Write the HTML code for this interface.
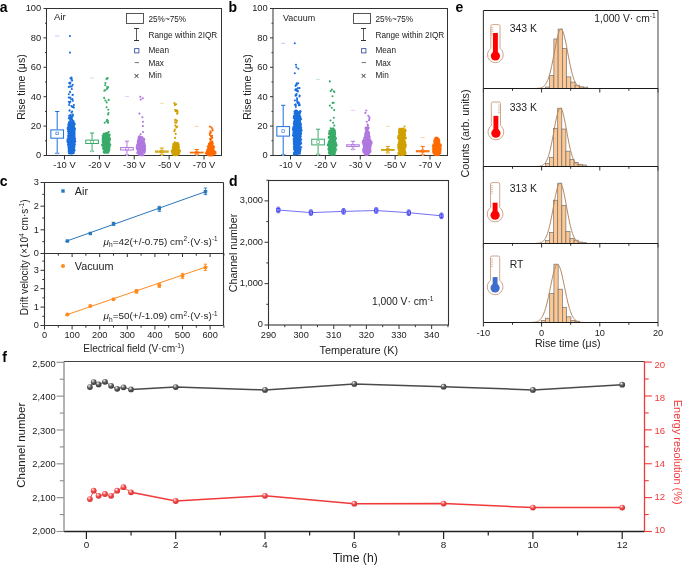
<!DOCTYPE html>
<html><head><meta charset="utf-8"><style>
html,body{margin:0;padding:0;background:#fff;}
svg{display:block;font-family:"Liberation Sans", sans-serif;filter:blur(0.3px);}
</style></head><body>
<svg width="685" height="566" viewBox="0 0 685 566">
<defs><radialGradient id="gk" cx="0.4" cy="0.35" r="0.65" fx="0.36" fy="0.3"><stop offset="0" stop-color="#ffffff"/><stop offset="0.22" stop-color="#b0b0b0"/><stop offset="0.5" stop-color="#5c5c5c"/><stop offset="1" stop-color="#383838"/></radialGradient><radialGradient id="gr" cx="0.4" cy="0.35" r="0.65" fx="0.36" fy="0.3"><stop offset="0" stop-color="#ffffff"/><stop offset="0.22" stop-color="#ffa0a0"/><stop offset="0.5" stop-color="#f04a4a"/><stop offset="1" stop-color="#d83030"/></radialGradient></defs>
<rect x="0" y="0" width="685" height="566" fill="#fff"/>
<text x="-0.2" y="11.8" font-size="14" font-weight="bold" fill="#000">a</text>
<text x="228.4" y="11.8" font-size="14" font-weight="bold" fill="#000">b</text>
<text x="455.6" y="11.8" font-size="14" font-weight="bold" fill="#000">e</text>
<text x="-0.2" y="185.7" font-size="14" font-weight="bold" fill="#000">c</text>
<text x="229.0" y="185.6" font-size="14" font-weight="bold" fill="#000">d</text>
<text x="2.3" y="362.4" font-size="14" font-weight="bold" fill="#000">f</text>
<line x1="43.50" y1="155.50" x2="46.50" y2="155.50" stroke="#333" stroke-width="1" />
<text x="41.20" y="158.33" font-size="9.3" text-anchor="end" fill="#222" font-weight="normal" >0</text>
<line x1="45.00" y1="140.80" x2="46.50" y2="140.80" stroke="#333" stroke-width="1" />
<line x1="43.50" y1="126.10" x2="46.50" y2="126.10" stroke="#333" stroke-width="1" />
<text x="41.20" y="128.93" font-size="9.3" text-anchor="end" fill="#222" font-weight="normal" >20</text>
<line x1="45.00" y1="111.40" x2="46.50" y2="111.40" stroke="#333" stroke-width="1" />
<line x1="43.50" y1="96.70" x2="46.50" y2="96.70" stroke="#333" stroke-width="1" />
<text x="41.20" y="99.53" font-size="9.3" text-anchor="end" fill="#222" font-weight="normal" >40</text>
<line x1="45.00" y1="82.00" x2="46.50" y2="82.00" stroke="#333" stroke-width="1" />
<line x1="43.50" y1="67.30" x2="46.50" y2="67.30" stroke="#333" stroke-width="1" />
<text x="41.20" y="70.13" font-size="9.3" text-anchor="end" fill="#222" font-weight="normal" >60</text>
<line x1="45.00" y1="52.60" x2="46.50" y2="52.60" stroke="#333" stroke-width="1" />
<line x1="43.50" y1="37.90" x2="46.50" y2="37.90" stroke="#333" stroke-width="1" />
<text x="41.20" y="40.73" font-size="9.3" text-anchor="end" fill="#222" font-weight="normal" >80</text>
<line x1="45.00" y1="23.20" x2="46.50" y2="23.20" stroke="#333" stroke-width="1" />
<line x1="43.50" y1="8.50" x2="46.50" y2="8.50" stroke="#333" stroke-width="1" />
<text x="41.20" y="11.33" font-size="9.3" text-anchor="end" fill="#222" font-weight="normal" >100</text>
<line x1="64.50" y1="155.50" x2="64.50" y2="159.50" stroke="#333" stroke-width="1" />
<text x="64.50" y="167.97" font-size="9.4" text-anchor="middle" fill="#222" font-weight="normal" >-10 V</text>
<line x1="99.38" y1="155.50" x2="99.38" y2="159.50" stroke="#333" stroke-width="1" />
<text x="99.38" y="167.97" font-size="9.4" text-anchor="middle" fill="#222" font-weight="normal" >-20 V</text>
<line x1="134.26" y1="155.50" x2="134.26" y2="159.50" stroke="#333" stroke-width="1" />
<text x="134.26" y="167.97" font-size="9.4" text-anchor="middle" fill="#222" font-weight="normal" >-30 V</text>
<line x1="169.14" y1="155.50" x2="169.14" y2="159.50" stroke="#333" stroke-width="1" />
<text x="169.14" y="167.97" font-size="9.4" text-anchor="middle" fill="#222" font-weight="normal" >-50 V</text>
<line x1="204.02" y1="155.50" x2="204.02" y2="159.50" stroke="#333" stroke-width="1" />
<text x="204.02" y="167.97" font-size="9.4" text-anchor="middle" fill="#222" font-weight="normal" >-70 V</text>
<rect x="46.50" y="8.50" width="175.00" height="147.00" stroke="#333" fill="none" stroke-width="1.0" />
<text x="0" y="3.79" font-size="10.6" text-anchor="middle" fill="#222" font-weight="normal" transform="translate(21.60,87.00) rotate(-90)" >Rise time (μs)</text>
<text x="54.00" y="20.24" font-size="9.6" text-anchor="start" fill="#222" font-weight="normal" >Air</text>
<rect x="126.50" y="13.50" width="17.00" height="10.00" stroke="#444" fill="none" stroke-width="0.9" />
<text x="148.50" y="21.94" font-size="8.2" text-anchor="start" fill="#222" font-weight="normal" >25%~75%</text>
<line x1="136.50" y1="28.50" x2="136.50" y2="40.50" stroke="#333" stroke-width="0.8" />
<line x1="134.00" y1="28.50" x2="139.00" y2="28.50" stroke="#333" stroke-width="1" />
<line x1="134.00" y1="40.50" x2="139.00" y2="40.50" stroke="#333" stroke-width="1" />
<text x="148.50" y="37.54" font-size="8.2" text-anchor="start" fill="#222" font-weight="normal" >Range within 2IQR</text>
<rect x="134.60" y="48.60" width="4.30" height="4.30" stroke="#3d55a0" fill="none" stroke-width="0.9" />
<text x="148.50" y="53.24" font-size="8.2" text-anchor="start" fill="#222" font-weight="normal" >Mean</text>
<line x1="134.60" y1="62.60" x2="139.00" y2="62.60" stroke="#666" stroke-width="0.9" />
<text x="148.50" y="65.54" font-size="8.2" text-anchor="start" fill="#222" font-weight="normal" >Max</text>
<text x="136.60" y="78.70" font-size="9.5" text-anchor="middle" fill="#222">×</text>
<text x="148.50" y="78.44" font-size="8.2" text-anchor="start" fill="#222" font-weight="normal" >Min</text>
<line x1="57.20" y1="111.50" x2="57.20" y2="129.40" stroke="#1b6fdd" stroke-width="1" />
<line x1="57.20" y1="138.70" x2="57.20" y2="153.60" stroke="#1b6fdd" stroke-width="1" />
<line x1="55.10" y1="111.50" x2="59.30" y2="111.50" stroke="#1b6fdd" stroke-width="1" />
<line x1="55.10" y1="153.30" x2="59.30" y2="153.30" stroke="#1b6fdd" stroke-width="1" />
<rect x="50.85" y="129.90" width="12.70" height="8.30" stroke="#1b6fdd" fill="none" stroke-width="1" />
<rect x="55.90" y="132.10" width="2.60" height="2.60" stroke="#1b6fdd" fill="none" stroke-width="0.6" />
<line x1="55.10" y1="36.00" x2="59.30" y2="36.00" stroke="#b9d0f2" stroke-width="1" />
<line x1="56.00" y1="152.60" x2="58.40" y2="154.80" stroke="#b9d0f2" stroke-width="0.7" />
<line x1="56.00" y1="154.80" x2="58.40" y2="152.60" stroke="#b9d0f2" stroke-width="0.7" />
<path d="M71.2,135.1h0M71.6,148.7h0M70.8,123.3h0M72.1,139.8h0M69.1,139.8h0M74.6,134.3h0M70.8,137.0h0M69.7,126.7h0M73.5,121.5h0M72.8,136.8h0M75.0,128.6h0M71.9,149.3h0M71.6,141.2h0M74.4,142.2h0M74.4,139.5h0M74.7,138.7h0M71.2,140.6h0M73.1,135.5h0M70.7,137.4h0M74.6,133.2h0M73.7,126.5h0M74.0,147.6h0M68.8,141.7h0M68.6,143.1h0M72.5,121.8h0M70.1,125.8h0M72.3,132.1h0M67.5,140.5h0M69.6,130.3h0M70.8,129.4h0M70.4,122.6h0M73.1,139.4h0M69.8,144.2h0M68.4,144.4h0M70.2,149.4h0M70.7,137.0h0M68.7,146.8h0M69.4,122.3h0M72.7,150.9h0M74.0,149.0h0M74.9,140.1h0M73.8,143.3h0M70.6,122.2h0M69.2,146.1h0M69.9,138.4h0M71.0,145.3h0M71.5,127.9h0M71.6,151.4h0M70.4,137.4h0M73.8,131.7h0M69.8,123.8h0M71.1,142.8h0M74.0,132.4h0M73.4,142.6h0M70.0,133.6h0M69.4,139.2h0M73.6,139.4h0M67.6,139.0h0M68.5,138.7h0M71.5,148.0h0M71.5,138.0h0M68.8,138.3h0M68.1,131.5h0M69.1,139.1h0M73.3,138.3h0M71.1,132.0h0M74.6,123.6h0M73.2,142.3h0M75.2,141.3h0M67.9,129.4h0M69.5,149.4h0M68.5,126.1h0M70.8,144.2h0M68.8,151.9h0M71.6,132.4h0M68.8,147.4h0M70.0,150.4h0M70.1,153.5h0M73.3,143.1h0M70.9,121.7h0M69.7,142.1h0M67.9,127.5h0M70.8,135.5h0M72.0,125.2h0M72.6,138.6h0M74.4,138.3h0M73.4,137.0h0M69.6,151.4h0M68.5,127.5h0M73.0,134.1h0M73.5,139.5h0M71.4,139.8h0M73.3,146.7h0M71.6,147.0h0M69.5,141.7h0M69.2,147.5h0M68.0,142.2h0M72.3,131.8h0M74.0,135.7h0M73.9,151.6h0M71.1,136.5h0M72.2,121.8h0M73.9,146.1h0M73.4,142.8h0M72.0,143.9h0M70.7,127.7h0M71.4,148.5h0M69.0,123.3h0M68.7,140.4h0M72.6,124.2h0M74.6,136.0h0M71.7,139.5h0M70.6,145.5h0M70.2,139.8h0M71.0,127.7h0M73.3,133.1h0M71.0,145.6h0M74.5,131.0h0M68.9,123.3h0M69.9,138.4h0M71.4,142.2h0M70.6,141.6h0M73.3,125.7h0M73.7,129.3h0M73.8,148.7h0M72.1,131.4h0M68.2,142.7h0M71.8,146.3h0M71.6,125.5h0M71.2,146.0h0M69.8,135.3h0M72.8,129.8h0M74.3,144.9h0M68.6,138.0h0M72.6,127.6h0M70.4,132.1h0M71.4,126.6h0M74.2,129.7h0M74.5,132.2h0M72.2,147.8h0M69.1,128.8h0M74.5,128.4h0M69.2,133.5h0M70.6,146.5h0M73.7,144.2h0M70.3,125.1h0M70.0,148.3h0M74.6,129.8h0M74.6,129.6h0M69.9,140.1h0M70.6,135.5h0M69.8,123.4h0M68.5,128.0h0M69.3,140.5h0M74.5,137.1h0M68.3,144.7h0M69.4,150.1h0M69.0,139.3h0M68.3,124.7h0M71.5,135.7h0M73.0,131.5h0M73.7,145.6h0M72.2,142.1h0M73.4,134.9h0M67.6,140.1h0M70.1,148.0h0M73.9,149.4h0M68.9,122.4h0M69.9,146.6h0M71.2,134.6h0M69.7,131.1h0M71.6,126.5h0M68.0,144.8h0M69.5,150.2h0M74.6,145.6h0M68.7,144.2h0M74.0,136.8h0M69.2,133.1h0M75.3,141.6h0M72.6,129.4h0M72.5,141.7h0M69.3,125.3h0M68.5,147.7h0M73.0,135.7h0M69.1,137.8h0M69.5,126.4h0M73.4,133.1h0M73.8,138.3h0M68.8,149.6h0M74.7,129.4h0M71.5,136.3h0M70.5,137.2h0M68.4,129.9h0M70.6,134.1h0M74.5,132.9h0M69.8,132.9h0M68.3,140.5h0M69.3,123.0h0M68.5,128.3h0M70.1,141.0h0M73.7,125.9h0M68.7,147.7h0M73.4,121.0h0M74.4,147.1h0M74.5,142.9h0M69.5,132.1h0M70.5,125.4h0M74.5,124.4h0M71.2,124.6h0M72.8,139.1h0M70.2,149.0h0M67.8,129.1h0M70.2,132.4h0M72.7,149.0h0M73.3,123.5h0M71.8,133.8h0M71.1,149.1h0M71.6,130.6h0M71.0,148.0h0M71.5,131.1h0M73.5,135.9h0M69.6,126.6h0M71.9,146.0h0M74.2,134.0h0M74.1,140.9h0M69.0,123.9h0M74.7,130.3h0M73.7,124.2h0M68.9,124.6h0M69.4,141.4h0M69.2,150.4h0M68.3,137.5h0M73.7,121.7h0M70.7,150.9h0M73.9,131.2h0M68.7,138.1h0M68.9,153.3h0M73.3,122.3h0M73.0,125.8h0M74.9,129.0h0M72.5,136.2h0M71.5,135.8h0M73.5,140.3h0M68.4,131.3h0M71.6,133.1h0M70.9,130.3h0M68.5,142.1h0M72.0,132.7h0M70.3,148.0h0M71.4,141.5h0M70.5,135.3h0M69.9,139.8h0M70.4,134.7h0M71.9,152.1h0M74.5,137.8h0M74.2,142.5h0M73.7,136.6h0M73.2,125.5h0M69.8,132.0h0M74.2,146.1h0M69.8,136.0h0M68.4,128.1h0M71.3,136.4h0M72.9,136.1h0M70.4,149.6h0M72.3,145.3h0M70.1,126.6h0M74.7,144.5h0M71.0,125.3h0M71.2,122.9h0M71.5,128.6h0M73.4,122.9h0M74.9,138.7h0M71.5,136.5h0M70.9,144.2h0M72.2,144.5h0M68.5,143.7h0M70.8,150.6h0M73.6,134.5h0M73.4,130.4h0M67.7,140.9h0M73.8,123.9h0M70.7,122.6h0M74.8,144.4h0M70.3,129.0h0M69.3,132.3h0M71.6,126.8h0M74.0,130.9h0M70.8,140.2h0M74.1,127.6h0M72.5,148.2h0M70.4,142.3h0M70.2,122.9h0M71.3,145.4h0M70.5,141.7h0M70.4,135.8h0M72.3,133.6h0M73.4,149.3h0M71.9,134.7h0M68.7,130.5h0M69.7,125.3h0M70.5,146.4h0M72.1,134.1h0M68.8,131.4h0M68.2,129.0h0M70.1,151.6h0M69.9,133.9h0M67.7,128.1h0M71.5,146.9h0M74.5,139.8h0M71.5,145.7h0M72.9,134.4h0M73.5,134.4h0M73.5,151.5h0M74.4,130.4h0M70.9,144.2h0M72.5,132.6h0M68.5,126.9h0M74.2,128.4h0M70.5,137.2h0M71.1,141.8h0M74.0,123.6h0M69.9,137.1h0M68.8,141.9h0M73.1,122.6h0M72.0,139.6h0M68.4,124.4h0M68.4,146.0h0M70.2,124.5h0M68.0,135.9h0M73.6,150.4h0M69.0,130.4h0M69.7,132.0h0M70.5,123.7h0M71.4,140.0h0M70.8,142.8h0M72.2,138.2h0M72.5,139.4h0M70.9,131.4h0M68.2,139.6h0M74.7,124.4h0M72.9,141.0h0M68.5,133.3h0M70.8,142.0h0M73.1,150.0h0M75.0,138.6h0M67.8,141.1h0M68.0,142.7h0M71.2,137.9h0M70.9,148.7h0M73.9,135.9h0M74.0,140.4h0M70.1,144.1h0M70.7,139.8h0M71.8,147.8h0M73.9,151.2h0M69.2,124.4h0M70.5,140.2h0M68.0,142.0h0M72.3,129.7h0M67.7,139.4h0M74.0,146.7h0M71.5,150.2h0M71.8,146.1h0M68.3,145.2h0M69.8,148.1h0M71.1,139.5h0M73.9,128.8h0M71.6,127.6h0M69.9,135.9h0M73.8,152.9h0M72.4,137.2h0M71.5,148.8h0M69.3,137.7h0M69.9,123.4h0M73.9,133.7h0M68.5,139.2h0M71.5,146.4h0M72.1,136.7h0M70.3,134.9h0M72.8,148.7h0M74.0,143.1h0M73.8,124.7h0M72.9,142.3h0M69.6,151.8h0M67.9,128.4h0M70.8,129.6h0M70.0,131.1h0M69.3,132.6h0M73.9,132.5h0M69.4,133.0h0M73.8,128.5h0M73.8,125.5h0M68.4,127.6h0M74.1,142.6h0M70.5,140.5h0M69.4,143.4h0M69.1,131.2h0M69.0,153.3h0M71.3,139.3h0M70.5,133.4h0M73.3,126.8h0M73.5,135.7h0M67.9,139.6h0M70.6,127.3h0M70.5,124.0h0M68.7,140.5h0M70.0,152.9h0M69.4,142.1h0M72.9,140.7h0M70.3,146.7h0M69.1,126.7h0M69.7,148.1h0M71.0,153.5h0M71.7,149.1h0M69.6,136.1h0M72.7,144.5h0M69.7,149.5h0M72.5,150.9h0M72.1,138.6h0M69.0,130.7h0M72.5,121.2h0M70.8,121.2h0M71.6,132.8h0M72.0,145.1h0M72.1,147.8h0M70.9,149.9h0M68.2,130.8h0M73.6,140.9h0M73.8,131.5h0M71.2,124.5h0M71.9,132.5h0M69.8,135.8h0M74.1,131.1h0M72.5,143.8h0M69.7,148.3h0M73.7,138.8h0M74.5,143.1h0M70.4,125.1h0M74.7,150.3h0M71.2,145.7h0M69.2,137.2h0M72.5,148.5h0M70.4,125.7h0M73.0,127.3h0M71.8,147.2h0M68.7,135.7h0M71.5,151.6h0M73.6,133.4h0M71.2,133.9h0M71.6,128.6h0M73.9,132.2h0M70.9,128.1h0M71.2,123.2h0M72.0,141.5h0M73.1,152.0h0M69.8,153.3h0M68.2,127.4h0M73.4,141.4h0M71.6,122.5h0M70.0,135.8h0M74.1,149.8h0M74.0,124.4h0M71.6,138.8h0M74.1,148.8h0M73.4,147.6h0M73.1,124.6h0M69.8,144.1h0M67.4,141.8h0M72.6,127.3h0M72.9,136.2h0M70.3,134.9h0M71.2,143.6h0M71.8,144.8h0M69.6,134.2h0M72.6,134.3h0M71.8,128.6h0M70.5,143.0h0M68.6,131.8h0M71.7,130.1h0M70.1,135.3h0M73.0,128.8h0M69.1,123.0h0M70.6,133.8h0M69.3,135.4h0M70.8,149.2h0M71.8,132.0h0M68.7,137.6h0M67.7,140.5h0M71.2,147.3h0M69.1,128.8h0M71.3,130.7h0M69.1,135.2h0M68.3,130.6h0M71.6,144.2h0M74.1,135.1h0M73.9,145.2h0M71.4,144.9h0M70.6,133.3h0M68.4,133.4h0M69.8,137.9h0M70.2,146.9h0M74.2,132.9h0M68.7,150.8h0M73.9,126.2h0M71.1,141.0h0M70.9,136.4h0M69.9,126.0h0M74.7,129.0h0M69.8,153.5h0M71.8,139.7h0M71.4,131.5h0M69.3,150.8h0M69.5,137.3h0M74.5,137.0h0M73.3,130.7h0M72.9,135.3h0M74.0,134.7h0M68.6,133.2h0M72.8,130.0h0M73.1,129.2h0M69.1,141.6h0M71.1,121.5h0M74.9,138.9h0M70.3,126.6h0M73.0,133.1h0M69.1,137.7h0M72.4,142.5h0M69.7,131.0h0M71.4,138.3h0M70.5,143.3h0M73.4,126.5h0M73.2,127.7h0M71.3,146.5h0M72.7,129.0h0M70.8,139.9h0M73.3,137.8h0M69.5,127.8h0M71.6,150.8h0M71.8,125.3h0M70.5,142.2h0M68.0,144.6h0M69.0,131.5h0M72.2,133.6h0M69.4,151.3h0M73.0,137.4h0M71.3,128.4h0M74.7,139.7h0M73.9,139.6h0M72.6,149.1h0M70.5,144.0h0M68.3,135.8h0M71.7,137.1h0M73.2,139.2h0M74.3,131.8h0M69.1,139.0h0M68.6,141.8h0M74.5,134.3h0M72.5,153.4h0M71.2,126.3h0M72.5,99.1h0M69.5,103.0h0M71.5,112.4h0M72.2,111.5h0M71.8,118.5h0M69.5,110.8h0M69.4,97.7h0M71.9,117.8h0M73.3,106.8h0M69.4,117.6h0M68.7,118.3h0M69.1,105.0h0M72.8,114.6h0M70.7,119.1h0M71.1,116.6h0M73.9,105.1h0M71.9,106.4h0M70.1,119.9h0M72.3,114.8h0M68.7,97.5h0M70.2,115.0h0M72.3,107.0h0M69.6,110.4h0M68.9,101.8h0M71.4,106.0h0M70.4,101.7h0M73.8,107.6h0M69.2,115.8h0M72.9,116.0h0M70.7,118.4h0M72.9,100.8h0M71.0,117.6h0M72.2,119.7h0M70.4,97.5h0M69.9,115.5h0M71.1,99.2h0M72.9,94.8h0M70.5,86.4h0M69.9,91.8h0M70.9,78.4h0M69.2,83.1h0M70.3,82.5h0M71.7,79.9h0M71.5,77.5h0M71.8,89.1h0M70.2,83.4h0M68.8,86.9h0M68.8,94.3h0M70.5,78.3h0M69.7,83.6h0M71.7,78.7h0M70.1,92.2h0M72.7,84.8h0M71.8,86.5h0M72.1,80.6h0M72.5,95.0h0M70.0,52.6h0M69.9,36.1h0" stroke="#1b6fdd" stroke-width="2.1" stroke-linecap="round" fill="none"/>
<line x1="92.08" y1="133.00" x2="92.08" y2="139.60" stroke="#38ab69" stroke-width="1" />
<line x1="92.08" y1="144.00" x2="92.08" y2="151.50" stroke="#38ab69" stroke-width="1" />
<line x1="89.98" y1="133.00" x2="94.18" y2="133.00" stroke="#38ab69" stroke-width="1" />
<line x1="89.98" y1="151.20" x2="94.18" y2="151.20" stroke="#38ab69" stroke-width="1" />
<rect x="85.73" y="140.10" width="12.70" height="3.40" stroke="#38ab69" fill="none" stroke-width="1" />
<rect x="90.78" y="140.50" width="2.60" height="2.60" stroke="#38ab69" fill="none" stroke-width="0.6" />
<line x1="89.98" y1="78.00" x2="94.18" y2="78.00" stroke="#c6e6d2" stroke-width="1" />
<line x1="90.88" y1="150.50" x2="93.28" y2="152.70" stroke="#c6e6d2" stroke-width="0.7" />
<line x1="90.88" y1="152.70" x2="93.28" y2="150.50" stroke="#c6e6d2" stroke-width="0.7" />
<path d="M108.1,148.5h0M104.3,150.4h0M107.5,143.8h0M106.6,143.7h0M108.5,140.2h0M104.1,140.3h0M105.8,151.0h0M103.7,151.7h0M108.8,147.8h0M106.2,146.2h0M103.8,141.3h0M107.2,138.3h0M104.7,142.7h0M108.7,136.5h0M103.3,136.7h0M108.6,148.2h0M107.1,142.0h0M105.1,135.9h0M103.2,146.2h0M106.9,134.4h0M102.7,142.1h0M103.6,142.4h0M109.2,139.4h0M109.0,145.5h0M106.6,134.9h0M109.4,144.7h0M107.5,136.8h0M106.6,135.8h0M105.6,135.1h0M102.9,137.6h0M103.3,141.6h0M104.2,139.8h0M105.9,143.0h0M108.7,151.7h0M106.7,141.7h0M107.7,151.4h0M109.6,144.8h0M103.8,144.9h0M108.9,146.8h0M109.2,150.5h0M104.5,141.9h0M103.7,142.9h0M108.2,138.1h0M109.2,135.8h0M108.3,146.2h0M105.4,145.0h0M106.7,151.9h0M103.7,149.1h0M104.4,137.5h0M105.5,144.1h0M107.8,143.8h0M103.3,146.8h0M109.1,143.1h0M103.5,134.4h0M109.3,143.0h0M104.2,135.8h0M108.4,149.8h0M107.7,152.5h0M109.4,134.7h0M105.9,145.0h0M107.6,140.8h0M104.5,136.3h0M108.4,137.6h0M103.5,140.8h0M108.6,151.4h0M106.8,147.8h0M103.3,142.5h0M109.2,138.1h0M104.7,138.9h0M102.7,140.0h0M104.6,148.4h0M103.0,142.8h0M104.5,135.7h0M107.6,149.0h0M109.6,146.9h0M107.2,136.1h0M109.0,139.7h0M108.3,142.7h0M107.6,149.7h0M105.4,143.6h0M104.5,148.5h0M103.7,141.7h0M106.5,137.5h0M103.8,139.4h0M107.3,133.2h0M105.0,150.1h0M106.6,151.9h0M106.5,135.1h0M107.1,149.8h0M103.7,141.7h0M104.6,150.5h0M107.5,142.9h0M104.2,140.4h0M107.5,135.7h0M109.4,149.8h0M105.6,152.0h0M109.9,138.6h0M107.2,145.2h0M109.0,151.1h0M106.4,147.4h0M107.6,134.5h0M107.0,133.0h0M103.7,139.7h0M106.3,144.9h0M106.6,152.7h0M105.9,146.6h0M107.4,136.2h0M109.0,147.1h0M108.5,139.6h0M108.7,138.7h0M103.3,139.0h0M107.5,149.5h0M107.2,145.9h0M109.5,135.4h0M102.8,137.6h0M103.4,145.2h0M109.5,140.7h0M105.1,145.7h0M107.8,136.1h0M106.8,136.8h0M105.5,143.6h0M105.7,134.8h0M106.6,142.5h0M109.5,137.5h0M106.4,137.8h0M108.7,144.7h0M104.8,137.3h0M107.7,146.6h0M107.1,144.4h0M107.8,137.9h0M108.2,151.8h0M102.6,145.2h0M109.2,149.7h0M106.9,137.5h0M104.5,146.9h0M105.9,147.7h0M103.3,141.5h0M103.9,145.3h0M108.5,142.7h0M107.6,137.8h0M108.2,151.8h0M103.8,146.1h0M103.5,144.0h0M105.1,145.0h0M106.1,141.6h0M107.6,137.9h0M104.8,146.0h0M107.8,146.9h0M106.8,137.6h0M104.7,146.8h0M108.1,148.1h0M102.7,138.7h0M106.8,148.3h0M104.2,150.8h0M103.1,142.7h0M106.0,138.9h0M106.4,144.2h0M106.9,143.5h0M105.3,138.0h0M109.2,147.6h0M108.5,139.5h0M103.9,137.0h0M102.8,137.9h0M109.9,138.5h0M105.6,149.9h0M102.8,144.7h0M103.5,145.8h0M107.5,137.5h0M103.9,141.6h0M105.3,137.9h0M107.4,146.4h0M105.2,142.3h0M107.4,135.9h0M109.3,149.9h0M108.3,141.8h0M107.3,144.1h0M107.0,147.6h0M104.9,137.8h0M107.1,143.4h0M107.2,141.9h0M106.7,150.8h0M106.1,145.0h0M107.8,150.8h0M104.2,142.5h0M107.7,140.7h0M109.6,134.6h0M103.1,136.8h0M104.5,142.9h0M110.1,139.8h0M103.3,146.3h0M107.9,134.2h0M106.7,140.3h0M103.3,143.0h0M107.3,145.2h0M102.8,140.3h0M108.5,142.4h0M104.9,150.8h0M109.0,143.2h0M108.9,142.8h0M103.4,136.1h0M105.5,149.3h0M103.6,135.2h0M108.2,140.1h0M103.4,141.0h0M102.8,139.8h0M103.7,147.9h0M108.6,143.6h0M104.0,144.2h0M104.8,139.9h0M105.9,134.2h0M106.5,140.7h0M105.6,138.0h0M110.0,144.7h0M105.1,146.1h0M106.1,151.8h0M108.5,151.3h0M104.5,143.1h0M104.0,143.9h0M108.9,139.5h0M105.2,134.2h0M108.8,137.7h0M108.4,143.7h0M105.3,146.0h0M104.7,144.7h0M103.5,138.2h0M108.6,149.3h0M105.7,144.2h0M105.0,134.9h0M104.5,133.7h0M104.3,138.2h0M108.7,143.8h0M103.7,137.4h0M106.6,134.7h0M107.0,149.5h0M106.3,139.9h0M106.2,144.2h0M105.3,145.5h0M104.1,136.7h0M108.4,141.4h0M108.9,143.5h0M106.7,140.0h0M104.5,147.9h0M108.9,148.9h0M104.1,146.9h0M103.7,135.2h0M107.3,144.7h0M108.6,142.0h0M106.8,139.4h0M103.6,148.6h0M109.6,134.7h0M103.8,147.5h0M105.2,149.3h0M109.4,148.0h0M108.0,151.1h0M107.9,149.1h0M103.4,148.5h0M108.4,151.2h0M105.5,143.9h0M102.8,140.4h0M108.2,146.9h0M109.2,141.3h0M103.2,148.7h0M105.9,141.0h0M109.6,145.0h0M105.1,150.6h0M104.8,142.0h0M108.1,143.9h0M105.8,147.5h0M109.5,143.0h0M109.0,138.8h0M108.4,151.6h0M107.6,146.3h0M104.1,138.1h0M107.4,142.7h0M106.7,137.0h0M106.1,151.8h0M106.7,140.1h0M104.5,145.4h0M103.7,138.5h0M108.1,152.8h0M105.2,134.8h0M103.5,142.6h0M110.3,144.9h0M106.3,142.6h0M107.4,141.1h0M105.1,149.0h0M103.2,145.5h0M105.0,150.1h0M108.5,147.1h0M104.7,137.1h0M108.8,149.6h0M104.5,144.2h0M108.9,140.5h0M104.1,149.3h0M105.7,145.0h0M103.8,149.3h0M103.1,144.3h0M106.3,140.7h0M105.3,142.6h0M106.4,140.9h0M103.9,140.0h0M104.9,136.9h0M105.0,150.5h0M109.0,141.9h0M102.5,144.5h0M105.5,144.7h0M108.6,142.7h0M106.7,148.0h0M104.2,138.6h0M109.5,142.8h0M103.5,144.0h0M103.7,137.3h0M103.6,133.9h0M105.8,146.4h0M109.3,144.7h0M104.7,137.8h0M104.8,136.8h0M107.6,133.5h0M103.2,145.9h0M103.8,152.4h0M107.3,137.0h0M103.4,143.6h0M106.4,144.0h0M103.3,139.2h0M106.9,137.1h0M108.9,135.9h0M105.9,133.6h0M104.5,142.0h0M107.0,141.5h0M107.9,144.5h0M103.2,143.4h0M104.2,135.7h0M105.6,152.6h0M106.2,138.0h0M105.0,134.0h0M107.2,151.0h0M104.5,147.6h0M108.8,148.1h0M105.0,135.8h0M104.3,142.8h0M103.3,147.4h0M103.6,137.7h0M104.2,146.7h0M108.9,146.2h0M105.6,142.6h0M105.8,142.8h0M109.4,147.7h0M109.2,149.5h0M108.3,139.5h0M104.9,133.7h0M104.8,139.7h0M106.2,135.4h0M104.6,149.2h0M105.0,135.7h0M104.3,142.3h0M104.4,150.0h0M108.2,139.8h0M107.0,139.7h0M105.8,148.9h0M106.0,146.6h0M107.0,137.8h0M107.1,133.8h0M103.0,148.8h0M108.4,149.5h0M105.9,136.2h0M105.4,152.4h0M109.9,138.6h0M107.9,148.7h0M105.2,143.3h0M102.1,144.7h0M105.8,142.4h0M105.8,148.6h0M105.2,138.6h0M103.4,138.0h0M106.6,152.3h0M104.2,140.0h0M107.9,149.7h0M106.4,143.7h0M104.8,149.5h0M108.4,147.0h0M105.8,150.0h0M104.2,152.6h0M104.4,139.2h0M103.2,143.1h0M105.7,150.4h0M108.9,148.0h0M109.1,150.8h0M107.3,141.6h0M103.2,144.2h0M104.1,140.0h0M104.8,152.6h0M105.3,148.2h0M107.3,145.9h0M102.2,145.5h0M106.1,145.3h0M105.7,148.3h0M107.3,143.6h0M108.3,148.2h0M105.5,140.6h0M106.8,149.4h0M104.7,136.8h0M105.8,135.0h0M107.1,141.6h0M102.7,135.9h0M106.2,133.3h0M106.2,142.0h0M103.5,145.3h0M104.5,142.5h0M108.6,135.5h0M105.1,147.2h0M104.0,147.2h0M104.5,140.0h0M106.3,149.0h0M105.5,136.8h0M105.1,147.2h0M105.3,133.5h0M104.3,137.6h0M106.2,140.3h0M106.8,142.2h0M103.3,146.3h0M106.7,102.4h0M105.2,85.3h0M108.7,99.9h0M108.5,113.0h0M104.3,90.8h0M107.2,87.1h0M105.4,100.5h0M104.2,97.9h0M108.1,114.4h0M108.3,109.8h0M107.7,78.0h0M106.9,79.1h0M108.7,131.9h0M106.5,121.3h0M107.1,119.7h0M107.0,88.9h0M108.0,121.1h0M108.0,122.8h0M105.2,90.3h0M104.7,122.8h0M106.4,78.8h0M106.6,107.2h0M105.4,83.1h0M108.1,87.4h0" stroke="#38ab69" stroke-width="2.1" stroke-linecap="round" fill="none"/>
<line x1="126.96" y1="141.20" x2="126.96" y2="147.10" stroke="#b077df" stroke-width="1" />
<line x1="126.96" y1="150.50" x2="126.96" y2="155.00" stroke="#b077df" stroke-width="1" />
<line x1="124.86" y1="141.20" x2="129.06" y2="141.20" stroke="#b077df" stroke-width="1" />
<line x1="124.86" y1="154.70" x2="129.06" y2="154.70" stroke="#b077df" stroke-width="1" />
<rect x="120.61" y="147.60" width="12.70" height="2.40" stroke="#b077df" fill="none" stroke-width="1" />
<rect x="125.66" y="147.50" width="2.60" height="2.60" stroke="#b077df" fill="none" stroke-width="0.6" />
<line x1="124.86" y1="96.60" x2="129.06" y2="96.60" stroke="#e0cdf6" stroke-width="1" />
<line x1="125.76" y1="154.00" x2="128.16" y2="156.20" stroke="#e0cdf6" stroke-width="0.7" />
<line x1="125.76" y1="156.20" x2="128.16" y2="154.00" stroke="#e0cdf6" stroke-width="0.7" />
<path d="M141.5,142.9h0M138.5,150.1h0M138.1,144.5h0M140.8,138.1h0M143.5,139.3h0M144.3,139.0h0M139.0,151.5h0M144.2,151.5h0M140.8,145.2h0M138.1,140.7h0M138.7,146.1h0M139.6,138.3h0M139.8,141.2h0M139.8,153.9h0M139.3,145.4h0M139.9,148.7h0M144.5,152.8h0M144.9,146.5h0M140.0,149.6h0M142.8,147.8h0M143.0,148.6h0M142.3,137.2h0M140.2,146.3h0M138.3,146.4h0M143.1,144.9h0M142.3,152.8h0M139.8,149.6h0M142.5,149.2h0M137.7,153.2h0M143.5,148.1h0M144.4,148.4h0M144.9,145.2h0M138.0,152.3h0M142.6,151.7h0M143.3,151.7h0M138.0,148.2h0M141.7,153.9h0M138.6,152.3h0M138.9,151.3h0M137.7,143.1h0M139.3,145.2h0M143.4,138.7h0M141.7,144.1h0M143.5,149.7h0M144.4,143.2h0M138.3,145.1h0M144.0,148.9h0M144.5,146.0h0M142.3,149.0h0M140.1,137.9h0M138.6,151.2h0M140.7,138.3h0M140.4,154.8h0M139.0,148.5h0M142.2,142.1h0M142.0,142.1h0M139.1,149.6h0M138.5,152.8h0M141.1,145.7h0M143.0,147.4h0M142.4,149.3h0M142.3,148.6h0M144.4,148.2h0M143.0,151.3h0M140.7,138.7h0M142.4,137.3h0M142.3,144.2h0M139.6,147.1h0M138.3,149.5h0M139.9,147.5h0M142.9,148.5h0M143.3,147.3h0M139.4,149.3h0M141.3,140.4h0M137.5,148.9h0M141.8,143.8h0M140.7,143.6h0M143.2,145.0h0M144.1,148.9h0M137.1,146.0h0M145.0,148.9h0M138.3,148.2h0M144.9,145.8h0M144.1,140.6h0M138.8,151.7h0M139.8,154.1h0M138.1,148.0h0M144.3,152.2h0M142.7,141.0h0M144.3,142.6h0M143.6,149.7h0M140.1,143.7h0M143.4,148.1h0M140.1,138.7h0M139.8,151.4h0M140.4,147.2h0M142.6,152.8h0M139.8,142.1h0M141.4,153.6h0M141.5,142.5h0M143.2,143.5h0M140.9,155.2h0M140.4,146.6h0M141.5,152.9h0M140.8,138.6h0M143.0,149.4h0M137.7,148.4h0M138.9,139.7h0M137.8,143.1h0M140.5,141.8h0M142.9,155.1h0M141.9,148.5h0M142.0,142.2h0M144.1,142.9h0M143.5,144.2h0M139.3,148.2h0M138.9,151.4h0M141.4,152.6h0M138.6,147.4h0M141.7,138.6h0M138.7,137.3h0M140.2,153.5h0M142.6,142.5h0M138.9,146.0h0M138.4,153.4h0M143.2,147.9h0M139.2,154.0h0M144.5,148.1h0M142.0,148.0h0M144.2,149.7h0M141.3,146.1h0M141.0,147.6h0M139.1,149.8h0M137.6,144.5h0M144.9,148.6h0M138.8,151.9h0M138.7,154.6h0M144.5,151.9h0M141.3,154.9h0M141.6,138.8h0M143.4,154.7h0M143.0,145.4h0M139.2,151.2h0M139.4,153.3h0M142.2,142.5h0M142.6,148.1h0M138.7,147.9h0M138.9,148.8h0M141.1,146.0h0M137.7,151.7h0M143.1,138.5h0M142.5,147.6h0M138.3,152.8h0M141.7,145.3h0M139.3,136.2h0M140.7,137.6h0M143.5,149.5h0M140.8,154.5h0M142.9,151.9h0M138.7,145.9h0M145.2,145.7h0M142.4,152.3h0M141.4,141.4h0M136.9,148.9h0M139.8,148.5h0M137.1,144.9h0M140.7,140.2h0M138.8,142.2h0M139.5,153.9h0M139.6,144.0h0M138.6,142.3h0M139.4,151.4h0M141.1,144.4h0M138.2,150.8h0M141.6,148.3h0M145.0,146.2h0M143.0,146.9h0M144.5,144.2h0M138.4,139.5h0M142.3,152.3h0M139.3,139.9h0M144.1,143.2h0M141.0,139.5h0M142.9,145.9h0M143.3,145.4h0M138.7,141.0h0M138.0,150.9h0M143.7,148.9h0M143.5,151.1h0M140.6,151.6h0M137.7,142.5h0M137.9,141.9h0M142.8,154.5h0M142.8,146.5h0M140.3,154.6h0M142.4,150.5h0M143.7,148.3h0M136.6,147.1h0M143.0,144.9h0M143.6,155.1h0M144.1,149.8h0M143.5,140.6h0M140.6,144.5h0M141.8,143.5h0M138.0,144.7h0M143.0,141.6h0M142.5,147.0h0M140.4,139.6h0M138.7,137.1h0M138.9,139.7h0M140.3,153.0h0M144.8,146.3h0M140.8,145.6h0M144.0,152.1h0M138.4,148.9h0M139.4,139.0h0M138.8,148.5h0M139.6,142.0h0M143.7,146.1h0M140.4,137.1h0M139.7,151.6h0M142.5,150.2h0M140.6,145.9h0M144.2,149.3h0M142.3,138.3h0M143.4,142.9h0M140.7,136.9h0M140.2,149.0h0M140.7,139.2h0M145.0,149.7h0M144.6,152.3h0M141.6,149.1h0M141.0,149.0h0M138.3,141.0h0M144.1,148.9h0M141.9,144.6h0M140.3,148.5h0M138.1,147.1h0M140.8,146.1h0M142.4,141.5h0M139.2,152.0h0M138.9,147.5h0M141.1,154.3h0M141.0,146.3h0M137.9,141.0h0M137.5,149.5h0M139.9,147.0h0M142.5,142.6h0M140.1,145.8h0M137.0,148.9h0M138.8,146.3h0M138.3,147.0h0M142.8,141.4h0M138.8,149.9h0M144.8,150.6h0M139.2,147.1h0M138.6,153.1h0M137.3,152.8h0M141.0,150.3h0M141.2,146.0h0M143.1,143.6h0M142.4,144.8h0M141.4,143.6h0M137.1,146.5h0M145.0,147.7h0M139.4,139.0h0M139.6,155.0h0M138.2,146.0h0M141.7,153.2h0M141.9,155.2h0M139.5,145.9h0M138.9,147.0h0M137.3,153.0h0M141.9,148.7h0M142.8,145.2h0M138.1,152.7h0M139.3,142.2h0M143.2,148.0h0M142.8,145.4h0M138.2,150.6h0M144.9,150.3h0M142.8,150.4h0M142.9,149.2h0M139.9,140.0h0M144.4,143.0h0M140.6,144.3h0M142.1,153.1h0M144.8,151.2h0M144.1,147.7h0M138.4,150.0h0M138.6,138.4h0M138.6,147.9h0M138.9,154.5h0M144.1,152.3h0M141.4,148.7h0M140.9,149.3h0M140.2,139.7h0M141.0,149.7h0M140.7,154.5h0M142.8,144.1h0M140.6,134.2h0M143.0,132.0h0M142.9,126.1h0M143.0,121.7h0M142.4,117.3h0M139.4,113.6h0M140.7,99.6h0M142.8,98.2h0M140.3,96.7h0" stroke="#b077df" stroke-width="2.1" stroke-linecap="round" fill="none"/>
<line x1="161.84" y1="148.10" x2="161.84" y2="150.50" stroke="#d0a000" stroke-width="1" />
<line x1="161.84" y1="152.70" x2="161.84" y2="155.00" stroke="#d0a000" stroke-width="1" />
<line x1="159.74" y1="148.10" x2="163.94" y2="148.10" stroke="#d0a000" stroke-width="1" />
<line x1="159.74" y1="154.70" x2="163.94" y2="154.70" stroke="#d0a000" stroke-width="1" />
<rect x="155.49" y="151.00" width="12.70" height="1.20" stroke="#d0a000" fill="none" stroke-width="1" />
<rect x="160.54" y="150.30" width="2.60" height="2.60" stroke="#d0a000" fill="none" stroke-width="0.6" />
<line x1="159.74" y1="103.30" x2="163.94" y2="103.30" stroke="#f1e0b0" stroke-width="1" />
<line x1="160.64" y1="154.00" x2="163.04" y2="156.20" stroke="#f1e0b0" stroke-width="0.7" />
<line x1="160.64" y1="156.20" x2="163.04" y2="154.00" stroke="#f1e0b0" stroke-width="0.7" />
<path d="M174.8,154.0h0M176.0,154.3h0M179.2,153.2h0M174.2,150.9h0M174.1,154.9h0M177.9,147.7h0M176.1,151.9h0M172.7,152.1h0M171.7,150.7h0M177.5,149.8h0M177.5,150.2h0M175.6,151.5h0M174.8,147.2h0M174.8,155.0h0M175.4,149.5h0M176.9,150.9h0M175.3,153.0h0M174.7,152.0h0M173.9,151.8h0M176.8,154.8h0M179.8,151.4h0M173.6,152.6h0M177.7,149.3h0M176.8,154.3h0M173.6,151.6h0M173.7,148.9h0M178.4,152.0h0M173.4,151.9h0M172.9,149.8h0M172.4,151.0h0M178.3,152.9h0M175.0,151.9h0M172.3,152.1h0M174.8,154.8h0M176.0,147.9h0M175.8,149.1h0M173.0,150.2h0M178.2,153.7h0M177.1,154.2h0M174.3,152.6h0M174.6,151.8h0M173.8,151.6h0M172.7,147.7h0M176.9,150.3h0M174.6,148.0h0M177.3,150.4h0M178.2,147.3h0M174.8,148.8h0M174.4,153.6h0M174.9,152.6h0M175.8,154.3h0M171.9,151.4h0M175.1,152.0h0M174.6,152.9h0M173.4,147.1h0M178.0,148.8h0M177.4,152.8h0M175.9,149.0h0M172.8,152.8h0M177.3,148.8h0M174.9,150.2h0M178.8,152.5h0M177.2,150.1h0M174.2,149.4h0M177.8,152.8h0M176.6,153.2h0M175.1,154.7h0M178.1,151.7h0M174.8,147.7h0M173.7,148.8h0M173.2,148.3h0M176.8,153.3h0M174.8,154.9h0M173.0,150.6h0M172.0,151.4h0M177.9,153.3h0M174.6,153.8h0M179.0,150.6h0M178.9,152.4h0M178.3,152.5h0M174.5,154.8h0M178.7,149.0h0M177.0,151.1h0M177.8,154.8h0M178.6,149.5h0M174.8,148.9h0M175.0,152.0h0M178.9,153.0h0M174.6,153.8h0M172.6,150.4h0M172.5,153.0h0M176.3,149.2h0M174.8,148.0h0M178.8,146.8h0M172.3,152.7h0M175.2,153.1h0M177.4,147.5h0M176.8,150.3h0M178.3,153.5h0M176.9,149.7h0M178.7,153.0h0M178.9,153.8h0M179.0,150.6h0M176.5,155.0h0M175.1,150.1h0M176.1,148.4h0M174.3,154.3h0M173.9,150.5h0M176.1,151.7h0M175.6,155.1h0M175.1,152.9h0M173.3,146.7h0M179.9,150.2h0M174.9,153.6h0M175.8,150.7h0M174.9,149.5h0M176.3,148.8h0M177.5,154.6h0M179.2,152.3h0M176.6,148.3h0M179.2,152.5h0M175.1,149.2h0M175.7,151.6h0M174.7,152.2h0M179.0,147.2h0M173.9,154.5h0M173.9,152.1h0M177.8,147.8h0M173.7,150.7h0M172.2,150.8h0M174.8,151.1h0M175.8,154.9h0M175.5,150.9h0M173.6,151.5h0M174.7,150.0h0M174.4,153.6h0M174.0,148.4h0M176.0,150.6h0M173.7,149.9h0M173.4,149.8h0M179.1,151.9h0M178.1,154.6h0M175.2,148.7h0M176.1,147.8h0M172.6,150.3h0M173.0,154.0h0M176.0,152.9h0M179.7,150.6h0M172.8,152.4h0M175.5,151.5h0M178.1,152.3h0M172.9,149.0h0M176.7,150.5h0M174.7,155.0h0M178.2,151.6h0M178.0,153.7h0M178.8,152.7h0M177.3,155.1h0M173.6,147.9h0M177.1,153.5h0M176.4,152.9h0M174.7,153.9h0M173.5,150.0h0M175.8,153.6h0M175.3,151.4h0M175.4,149.0h0M179.2,151.7h0M174.6,155.1h0M179.1,151.5h0M173.3,152.2h0M177.6,150.6h0M175.6,149.4h0M175.2,153.2h0M175.8,154.3h0M173.2,152.9h0M174.3,154.2h0M175.2,149.8h0M173.7,152.9h0M177.8,154.8h0M177.4,152.5h0M176.7,154.4h0M177.0,154.5h0M173.8,153.8h0M173.5,155.0h0M173.5,154.4h0M179.2,150.4h0M175.8,152.8h0M179.5,152.6h0M174.4,151.0h0M175.1,152.3h0M176.9,146.8h0M178.5,152.6h0M175.4,151.9h0M175.8,150.4h0M175.2,155.1h0M174.2,147.4h0M179.3,150.1h0M178.9,152.6h0M175.5,149.2h0M173.0,149.9h0M178.1,154.4h0M175.6,150.9h0M177.7,153.6h0M175.4,154.1h0M172.9,153.2h0M177.7,153.2h0M172.5,151.0h0M178.7,153.8h0M174.2,154.9h0M174.9,149.3h0M172.3,153.4h0M173.9,151.7h0M176.9,149.5h0M172.9,152.5h0M172.7,150.1h0M173.6,154.8h0M171.8,150.8h0M176.0,153.9h0M174.2,153.9h0M177.8,153.3h0M176.0,145.9h0M178.4,145.4h0M178.6,144.6h0M174.7,146.0h0M177.7,146.6h0M174.5,143.6h0M177.8,147.1h0M174.6,142.3h0M176.9,144.8h0M178.5,146.6h0M177.0,147.6h0M177.0,144.1h0M177.0,147.5h0M175.4,145.4h0M173.5,146.3h0M175.4,143.4h0M174.8,148.1h0M178.0,147.1h0M178.4,146.9h0M177.7,142.9h0M175.0,144.9h0M178.0,143.9h0M178.2,144.8h0M173.4,144.1h0M176.2,144.5h0M173.2,147.7h0M173.5,144.7h0M175.6,145.6h0M177.1,145.9h0M173.8,147.2h0M175.1,143.6h0M175.8,144.7h0M176.2,144.6h0M173.8,145.2h0M174.0,145.2h0M173.3,144.3h0M174.9,144.7h0M178.7,144.4h0M173.9,146.5h0M177.6,147.0h0M176.8,144.3h0M178.0,144.8h0M177.7,145.5h0M173.5,144.6h0M175.1,143.7h0M177.9,145.8h0M176.8,145.9h0M178.3,147.1h0M173.4,144.4h0M177.7,143.9h0M175.4,144.6h0M177.4,143.9h0M176.4,144.3h0M175.1,145.1h0M176.1,146.1h0M173.0,146.0h0M178.7,146.5h0M178.1,145.9h0M176.5,143.1h0M176.8,145.3h0M176.7,127.3h0M175.7,133.9h0M175.1,122.4h0M176.4,111.2h0M177.5,113.4h0M177.1,113.8h0M176.9,121.1h0M174.9,105.1h0M175.3,125.5h0M175.2,119.9h0M176.1,104.3h0M177.2,110.6h0M176.3,122.7h0M176.2,110.4h0M175.7,111.3h0M174.9,129.6h0M175.2,125.5h0M177.5,111.9h0M177.2,126.5h0M176.4,127.4h0M176.5,120.3h0M175.1,137.9h0M174.4,130.8h0M174.4,103.1h0M174.4,131.3h0M175.0,110.0h0" stroke="#d0a000" stroke-width="2.1" stroke-linecap="round" fill="none"/>
<line x1="196.72" y1="149.50" x2="196.72" y2="151.70" stroke="#ff6a00" stroke-width="1" />
<line x1="196.72" y1="153.40" x2="196.72" y2="155.00" stroke="#ff6a00" stroke-width="1" />
<line x1="194.62" y1="149.50" x2="198.82" y2="149.50" stroke="#ff6a00" stroke-width="1" />
<line x1="194.62" y1="154.70" x2="198.82" y2="154.70" stroke="#ff6a00" stroke-width="1" />
<rect x="190.37" y="152.20" width="12.70" height="0.70" stroke="#ff6a00" fill="none" stroke-width="1" />
<rect x="195.42" y="151.20" width="2.60" height="2.60" stroke="#ff6a00" fill="none" stroke-width="0.6" />
<line x1="194.62" y1="126.40" x2="198.82" y2="126.40" stroke="#ffd0b0" stroke-width="1" />
<line x1="195.52" y1="154.00" x2="197.92" y2="156.20" stroke="#ffd0b0" stroke-width="0.7" />
<line x1="195.52" y1="156.20" x2="197.92" y2="154.00" stroke="#ffd0b0" stroke-width="0.7" />
<path d="M207.2,150.4h0M213.9,154.0h0M210.1,154.9h0M210.5,155.4h0M211.2,155.4h0M212.7,154.6h0M206.6,153.1h0M211.8,154.5h0M207.0,154.0h0M213.0,149.7h0M210.7,154.7h0M209.9,154.6h0M212.1,146.8h0M215.1,153.6h0M211.1,149.7h0M208.9,153.5h0M212.0,148.5h0M210.7,155.4h0M207.0,153.6h0M212.8,143.8h0M212.3,153.5h0M207.6,149.5h0M212.8,154.1h0M212.7,154.8h0M206.5,152.3h0M215.4,151.9h0M208.7,155.3h0M210.9,151.1h0M212.9,152.3h0M210.7,152.9h0M209.8,147.1h0M210.7,142.6h0M212.1,152.4h0M215.5,153.4h0M213.3,146.8h0M214.0,147.1h0M213.3,151.3h0M210.7,149.9h0M209.4,153.0h0M213.3,147.9h0M214.0,150.4h0M209.9,144.0h0M213.7,153.4h0M209.8,155.1h0M208.9,143.7h0M210.6,150.3h0M213.3,146.0h0M211.0,147.4h0M212.8,146.8h0M214.2,152.9h0M212.1,143.7h0M209.4,149.9h0M214.8,152.4h0M207.7,154.4h0M210.9,154.9h0M207.6,154.0h0M209.6,153.2h0M214.7,153.1h0M213.0,149.8h0M211.0,136.6h0M211.0,150.6h0M208.6,149.1h0M210.7,155.4h0M213.4,148.5h0M209.6,151.0h0M213.1,146.7h0M208.8,153.0h0M212.9,149.4h0M208.3,151.3h0M213.8,146.6h0M207.2,152.2h0M211.2,145.3h0M212.0,143.6h0M212.5,151.1h0M210.1,151.4h0M212.1,148.3h0M208.5,151.2h0M210.3,139.5h0M208.6,151.5h0M207.9,148.7h0M208.8,154.8h0M211.2,141.7h0M209.6,149.8h0M211.5,155.3h0M209.8,155.4h0M212.2,144.5h0M207.7,146.6h0M212.8,149.9h0M214.7,152.5h0M211.4,153.9h0M212.0,151.6h0M212.4,141.5h0M208.4,149.6h0M208.2,155.2h0M210.9,154.1h0M212.4,155.0h0M211.0,143.7h0M210.8,144.5h0M210.6,140.2h0M210.4,152.2h0M214.7,153.3h0M207.9,155.1h0M212.0,153.8h0M206.7,153.0h0M214.2,152.6h0M208.4,153.1h0M212.8,147.8h0M210.0,144.0h0M212.1,152.7h0M210.9,145.5h0M215.5,153.5h0M210.6,153.7h0M210.9,146.1h0M210.8,154.9h0M209.1,155.0h0M214.9,151.8h0M209.3,152.4h0M208.6,146.8h0M209.8,142.5h0M213.0,152.8h0M212.8,145.9h0M211.5,154.7h0M212.5,142.6h0M208.1,152.4h0M214.6,152.6h0M212.5,155.4h0M208.9,155.1h0M206.8,152.6h0M210.3,154.8h0M210.3,149.1h0M210.7,153.5h0M212.3,147.3h0M208.8,150.3h0M209.1,149.8h0M209.7,146.7h0M208.0,151.6h0M210.5,145.1h0M211.6,154.5h0M209.4,148.8h0M208.0,151.1h0M212.6,154.2h0M207.6,154.0h0M212.0,138.1h0M211.6,149.5h0M208.6,151.5h0M206.8,151.4h0M212.4,144.4h0M207.5,149.6h0M212.8,154.0h0M210.9,139.1h0M211.7,144.4h0M208.9,146.6h0M212.2,148.2h0M209.2,148.9h0M211.7,153.2h0M213.6,148.2h0M211.5,154.4h0M209.2,145.7h0M208.3,152.2h0M210.2,155.1h0M212.1,142.9h0M213.1,154.0h0M209.8,152.3h0M211.4,154.9h0M209.7,151.2h0M210.7,151.0h0M210.0,145.4h0M212.2,137.5h0M210.3,142.8h0M209.6,149.0h0M212.0,152.5h0M210.0,139.1h0M207.8,154.0h0M210.3,153.3h0M213.3,150.6h0M209.5,152.8h0M209.2,150.6h0M209.3,154.8h0M211.6,153.8h0M209.4,155.4h0M211.1,152.2h0M210.9,153.9h0M208.6,145.6h0M209.4,153.8h0M213.3,154.2h0M209.1,148.1h0M212.7,154.2h0M208.9,144.8h0M210.7,151.1h0M210.2,154.6h0M211.8,148.4h0M205.7,153.3h0M207.9,150.7h0M210.1,150.9h0M212.2,137.8h0M210.8,155.1h0M214.4,152.7h0M211.0,145.8h0M215.5,152.3h0M207.4,151.3h0M212.1,135.7h0M209.9,134.9h0M209.8,133.4h0M210.9,132.7h0M210.5,131.2h0M212.6,130.5h0M212.4,129.0h0M211.6,127.6h0M209.9,126.5h0" stroke="#ff6a00" stroke-width="2.1" stroke-linecap="round" fill="none"/>
<line x1="270.00" y1="155.50" x2="273.00" y2="155.50" stroke="#333" stroke-width="1" />
<text x="267.70" y="158.33" font-size="9.3" text-anchor="end" fill="#222" font-weight="normal" >0</text>
<line x1="271.50" y1="140.80" x2="273.00" y2="140.80" stroke="#333" stroke-width="1" />
<line x1="270.00" y1="126.10" x2="273.00" y2="126.10" stroke="#333" stroke-width="1" />
<text x="267.70" y="128.93" font-size="9.3" text-anchor="end" fill="#222" font-weight="normal" >20</text>
<line x1="271.50" y1="111.40" x2="273.00" y2="111.40" stroke="#333" stroke-width="1" />
<line x1="270.00" y1="96.70" x2="273.00" y2="96.70" stroke="#333" stroke-width="1" />
<text x="267.70" y="99.53" font-size="9.3" text-anchor="end" fill="#222" font-weight="normal" >40</text>
<line x1="271.50" y1="82.00" x2="273.00" y2="82.00" stroke="#333" stroke-width="1" />
<line x1="270.00" y1="67.30" x2="273.00" y2="67.30" stroke="#333" stroke-width="1" />
<text x="267.70" y="70.13" font-size="9.3" text-anchor="end" fill="#222" font-weight="normal" >60</text>
<line x1="271.50" y1="52.60" x2="273.00" y2="52.60" stroke="#333" stroke-width="1" />
<line x1="270.00" y1="37.90" x2="273.00" y2="37.90" stroke="#333" stroke-width="1" />
<text x="267.70" y="40.73" font-size="9.3" text-anchor="end" fill="#222" font-weight="normal" >80</text>
<line x1="271.50" y1="23.20" x2="273.00" y2="23.20" stroke="#333" stroke-width="1" />
<line x1="270.00" y1="8.50" x2="273.00" y2="8.50" stroke="#333" stroke-width="1" />
<text x="267.70" y="11.33" font-size="9.3" text-anchor="end" fill="#222" font-weight="normal" >100</text>
<line x1="290.50" y1="155.50" x2="290.50" y2="159.50" stroke="#333" stroke-width="1" />
<text x="290.50" y="167.97" font-size="9.4" text-anchor="middle" fill="#222" font-weight="normal" >-10 V</text>
<line x1="325.38" y1="155.50" x2="325.38" y2="159.50" stroke="#333" stroke-width="1" />
<text x="325.38" y="167.97" font-size="9.4" text-anchor="middle" fill="#222" font-weight="normal" >-20 V</text>
<line x1="360.26" y1="155.50" x2="360.26" y2="159.50" stroke="#333" stroke-width="1" />
<text x="360.26" y="167.97" font-size="9.4" text-anchor="middle" fill="#222" font-weight="normal" >-30 V</text>
<line x1="395.14" y1="155.50" x2="395.14" y2="159.50" stroke="#333" stroke-width="1" />
<text x="395.14" y="167.97" font-size="9.4" text-anchor="middle" fill="#222" font-weight="normal" >-50 V</text>
<line x1="430.02" y1="155.50" x2="430.02" y2="159.50" stroke="#333" stroke-width="1" />
<text x="430.02" y="167.97" font-size="9.4" text-anchor="middle" fill="#222" font-weight="normal" >-70 V</text>
<rect x="273.00" y="8.50" width="174.50" height="147.00" stroke="#333" fill="none" stroke-width="1.0" />
<text x="0" y="3.79" font-size="10.6" text-anchor="middle" fill="#222" font-weight="normal" transform="translate(247.60,87.00) rotate(-90)" >Rise time (μs)</text>
<text x="283.00" y="21.00" font-size="8.95" text-anchor="start" fill="#222" font-weight="normal" >Vacuum</text>
<rect x="353.50" y="13.50" width="17.00" height="10.00" stroke="#444" fill="none" stroke-width="0.9" />
<text x="375.50" y="21.94" font-size="8.2" text-anchor="start" fill="#222" font-weight="normal" >25%~75%</text>
<line x1="363.50" y1="28.50" x2="363.50" y2="40.50" stroke="#333" stroke-width="0.8" />
<line x1="361.00" y1="28.50" x2="366.00" y2="28.50" stroke="#333" stroke-width="1" />
<line x1="361.00" y1="40.50" x2="366.00" y2="40.50" stroke="#333" stroke-width="1" />
<text x="375.50" y="37.54" font-size="8.2" text-anchor="start" fill="#222" font-weight="normal" >Range within 2IQR</text>
<rect x="361.60" y="48.60" width="4.30" height="4.30" stroke="#3d55a0" fill="none" stroke-width="0.9" />
<text x="375.50" y="53.24" font-size="8.2" text-anchor="start" fill="#222" font-weight="normal" >Mean</text>
<line x1="361.60" y1="62.60" x2="366.00" y2="62.60" stroke="#666" stroke-width="0.9" />
<text x="375.50" y="65.54" font-size="8.2" text-anchor="start" fill="#222" font-weight="normal" >Max</text>
<text x="363.60" y="78.70" font-size="9.5" text-anchor="middle" fill="#222">×</text>
<text x="375.50" y="78.44" font-size="8.2" text-anchor="start" fill="#222" font-weight="normal" >Min</text>
<line x1="283.20" y1="105.30" x2="283.20" y2="126.10" stroke="#1b6fdd" stroke-width="1" />
<line x1="283.20" y1="136.60" x2="283.20" y2="155.00" stroke="#1b6fdd" stroke-width="1" />
<line x1="281.10" y1="105.30" x2="285.30" y2="105.30" stroke="#1b6fdd" stroke-width="1" />
<line x1="281.10" y1="154.70" x2="285.30" y2="154.70" stroke="#1b6fdd" stroke-width="1" />
<rect x="276.85" y="126.60" width="12.70" height="9.50" stroke="#1b6fdd" fill="none" stroke-width="1" />
<rect x="281.90" y="129.80" width="2.60" height="2.60" stroke="#1b6fdd" fill="none" stroke-width="0.6" />
<line x1="281.10" y1="43.30" x2="285.30" y2="43.30" stroke="#b9d0f2" stroke-width="1" />
<line x1="282.00" y1="154.00" x2="284.40" y2="156.20" stroke="#b9d0f2" stroke-width="0.7" />
<line x1="282.00" y1="156.20" x2="284.40" y2="154.00" stroke="#b9d0f2" stroke-width="0.7" />
<path d="M300.4,123.1h0M295.7,137.4h0M297.6,131.3h0M297.8,143.8h0M296.6,127.9h0M300.1,140.0h0M294.6,147.9h0M295.4,132.4h0M300.1,141.2h0M298.2,122.6h0M301.0,133.9h0M294.0,142.2h0M299.5,133.9h0M294.6,145.3h0M298.3,132.1h0M299.7,144.1h0M297.9,141.7h0M294.0,141.1h0M296.3,134.5h0M298.4,131.8h0M299.0,123.0h0M295.3,138.9h0M296.7,145.9h0M296.1,141.4h0M294.2,123.2h0M298.6,151.7h0M296.6,123.2h0M299.9,144.1h0M294.1,141.8h0M295.0,126.8h0M300.8,131.0h0M300.7,129.8h0M297.4,142.5h0M294.1,134.4h0M296.6,142.9h0M295.5,122.0h0M293.9,126.5h0M295.8,153.3h0M294.0,143.0h0M300.3,116.4h0M300.4,136.6h0M297.1,140.7h0M294.2,131.2h0M299.7,135.5h0M293.9,135.0h0M297.6,131.4h0M294.7,150.4h0M297.7,117.6h0M296.8,129.5h0M295.3,134.6h0M297.7,116.4h0M300.6,125.2h0M296.8,152.9h0M295.3,144.1h0M297.4,121.2h0M300.7,139.6h0M296.5,116.5h0M298.3,124.7h0M300.2,125.2h0M296.1,121.4h0M299.5,126.2h0M297.5,149.6h0M294.4,139.2h0M293.6,139.4h0M300.7,124.9h0M297.1,126.1h0M296.8,130.2h0M300.6,132.0h0M297.9,130.2h0M297.3,136.7h0M295.8,145.7h0M299.3,127.7h0M295.6,153.3h0M297.1,152.7h0M299.5,129.8h0M298.0,121.5h0M294.4,130.7h0M294.7,130.0h0M299.0,142.8h0M299.2,139.9h0M300.3,120.2h0M294.5,123.2h0M294.9,140.3h0M294.5,116.3h0M296.8,135.1h0M298.1,137.8h0M300.2,132.8h0M295.0,149.4h0M298.9,133.0h0M293.9,143.1h0M298.0,129.3h0M295.5,141.1h0M296.4,151.0h0M293.3,134.9h0M298.8,123.0h0M294.2,127.4h0M299.5,127.8h0M296.0,130.7h0M297.9,150.2h0M298.3,152.9h0M297.2,138.8h0M300.2,131.6h0M295.5,146.5h0M296.2,148.6h0M294.5,153.7h0M296.6,133.3h0M296.5,135.0h0M301.2,127.4h0M294.5,153.9h0M298.4,149.5h0M299.0,137.4h0M298.9,116.5h0M293.9,154.6h0M300.5,141.5h0M296.0,137.4h0M300.2,118.0h0M298.4,116.4h0M296.6,142.6h0M299.6,145.0h0M298.9,136.3h0M296.2,145.7h0M299.3,130.5h0M297.3,144.2h0M298.6,150.8h0M298.1,153.3h0M299.6,124.7h0M294.5,133.1h0M297.3,125.7h0M293.0,129.7h0M299.7,138.4h0M299.5,138.7h0M300.1,147.4h0M293.6,132.7h0M297.5,126.0h0M297.1,131.8h0M294.2,139.5h0M295.0,124.7h0M301.2,133.3h0M300.4,130.5h0M295.4,151.8h0M299.9,131.2h0M298.4,152.9h0M296.6,150.1h0M298.4,132.0h0M295.4,116.9h0M295.3,134.8h0M294.0,138.2h0M298.4,117.1h0M297.8,138.3h0M299.2,131.5h0M297.3,140.9h0M296.8,140.1h0M296.1,150.3h0M299.2,139.4h0M296.3,127.2h0M297.9,151.6h0M299.1,125.2h0M296.9,141.6h0M298.8,127.8h0M294.0,153.6h0M295.3,147.8h0M300.1,147.2h0M294.4,147.7h0M294.2,145.3h0M293.4,134.3h0M299.7,135.4h0M294.5,117.2h0M297.0,120.6h0M296.8,142.2h0M299.5,141.4h0M297.1,148.3h0M297.4,121.7h0M293.4,132.8h0M299.1,120.4h0M299.5,117.9h0M298.1,137.9h0M299.6,144.4h0M298.2,146.2h0M299.1,142.7h0M299.7,137.4h0M298.1,148.3h0M293.4,127.1h0M299.9,136.9h0M301.3,139.5h0M295.2,117.2h0M293.7,117.9h0M296.2,148.7h0M293.8,129.8h0M296.2,128.4h0M293.9,133.1h0M295.3,141.1h0M293.4,132.3h0M296.8,147.9h0M295.5,136.1h0M299.1,124.8h0M296.6,120.3h0M294.3,136.0h0M300.1,150.5h0M300.5,147.5h0M298.6,149.6h0M295.2,153.9h0M296.4,135.3h0M296.9,143.8h0M296.6,133.9h0M294.3,149.8h0M297.0,150.5h0M299.1,138.3h0M298.7,141.2h0M299.5,151.2h0M298.7,131.2h0M299.6,135.7h0M299.8,121.8h0M300.6,131.9h0M299.5,124.1h0M296.6,118.0h0M298.4,149.3h0M298.5,132.1h0M300.2,124.8h0M298.9,141.4h0M296.8,130.5h0M295.2,148.2h0M296.0,123.3h0M295.2,127.9h0M298.6,144.3h0M299.2,144.5h0M295.3,121.4h0M297.5,141.3h0M299.7,152.6h0M296.3,141.9h0M294.4,126.6h0M298.2,140.1h0M296.2,131.9h0M295.1,150.7h0M295.4,134.7h0M294.0,121.6h0M294.5,132.4h0M296.8,141.1h0M294.2,130.8h0M293.2,128.2h0M297.7,130.4h0M301.2,143.3h0M299.6,136.6h0M296.1,140.2h0M300.8,128.1h0M294.4,145.3h0M294.9,137.1h0M293.8,144.1h0M294.3,145.3h0M297.9,120.6h0M299.5,143.9h0M297.1,129.5h0M299.8,138.7h0M296.9,138.6h0M300.1,121.5h0M298.1,124.1h0M297.6,129.5h0M294.7,132.3h0M296.8,148.2h0M296.8,128.1h0M299.7,141.5h0M295.4,148.9h0M295.6,128.5h0M299.2,151.5h0M293.8,147.0h0M297.6,119.1h0M295.3,141.4h0M298.5,125.6h0M297.9,120.4h0M293.7,136.3h0M299.3,143.2h0M296.7,136.8h0M295.7,135.7h0M299.8,144.3h0M299.8,135.9h0M295.7,133.3h0M298.8,118.0h0M293.9,135.8h0M297.5,146.0h0M294.3,140.8h0M298.2,121.6h0M300.7,127.3h0M298.5,130.0h0M294.2,145.7h0M297.4,142.2h0M297.1,120.5h0M296.9,149.0h0M294.9,148.9h0M295.4,129.7h0M296.9,125.4h0M293.9,131.6h0M298.8,142.8h0M295.2,133.4h0M295.8,126.3h0M294.0,139.4h0M295.7,130.8h0M300.9,143.7h0M295.6,146.6h0M294.0,146.6h0M296.0,133.4h0M300.9,119.1h0M293.9,147.3h0M296.2,145.6h0M295.2,142.1h0M298.8,128.6h0M297.0,122.5h0M294.0,128.6h0M299.9,152.6h0M296.1,122.2h0M298.6,152.0h0M297.0,154.2h0M300.4,147.6h0M293.4,136.0h0M295.4,152.6h0M295.6,131.2h0M295.5,132.3h0M299.9,133.4h0M297.3,130.1h0M296.4,119.4h0M297.3,147.9h0M300.4,134.9h0M297.9,135.4h0M296.9,128.0h0M298.4,148.6h0M298.2,147.7h0M296.5,142.8h0M296.7,133.2h0M294.1,129.1h0M296.9,126.3h0M300.4,147.2h0M296.0,122.6h0M296.2,127.5h0M298.1,141.8h0M298.1,135.3h0M295.3,120.7h0M296.9,127.3h0M298.9,122.6h0M293.5,133.0h0M294.1,126.9h0M299.1,145.0h0M300.6,127.4h0M294.2,117.2h0M294.2,141.7h0M298.4,136.3h0M295.8,145.4h0M298.6,133.7h0M293.6,131.1h0M296.9,134.0h0M294.5,127.9h0M296.1,145.0h0M298.8,123.4h0M297.4,149.0h0M300.1,132.0h0M299.6,138.0h0M298.3,128.1h0M299.9,123.7h0M295.1,154.6h0M297.1,146.3h0M296.2,149.8h0M298.3,133.0h0M293.9,135.2h0M300.2,123.5h0M296.2,139.4h0M299.5,132.1h0M300.0,150.9h0M300.0,151.2h0M296.5,136.9h0M300.4,129.3h0M301.2,131.2h0M294.3,118.4h0M299.3,147.1h0M299.3,129.5h0M297.0,137.2h0M295.3,134.7h0M294.5,129.2h0M296.6,139.9h0M300.7,131.2h0M296.4,135.5h0M295.6,116.9h0M298.1,136.9h0M296.8,129.5h0M298.2,123.9h0M297.0,125.9h0M295.9,115.9h0M294.0,152.7h0M299.5,122.4h0M298.4,121.7h0M295.2,127.2h0M297.3,117.8h0M297.8,121.1h0M297.3,146.2h0M300.6,127.3h0M299.2,144.5h0M295.8,132.5h0M296.0,133.0h0M298.1,152.6h0M294.5,117.6h0M300.5,140.9h0M294.0,141.7h0M297.3,116.9h0M295.3,129.1h0M297.5,146.1h0M293.8,123.5h0M295.2,124.8h0M301.2,119.0h0M299.7,128.5h0M295.4,148.8h0M296.9,129.9h0M293.3,129.6h0M294.0,134.7h0M294.8,127.5h0M301.0,124.9h0M295.6,134.7h0M295.2,128.6h0M294.3,136.6h0M294.1,140.2h0M301.6,130.4h0M298.9,121.2h0M300.3,140.6h0M300.2,129.2h0M299.2,148.4h0M295.3,127.6h0M294.4,134.6h0M295.9,150.5h0M293.8,133.5h0M294.8,123.4h0M299.1,138.7h0M297.2,138.5h0M293.7,141.8h0M295.7,128.6h0M299.8,125.1h0M300.3,130.6h0M298.9,137.0h0M299.4,136.3h0M300.7,128.7h0M297.8,133.0h0M296.3,129.3h0M297.9,133.9h0M295.6,123.6h0M294.1,122.8h0M295.6,144.7h0M296.9,143.2h0M294.9,150.0h0M293.8,127.7h0M295.0,136.3h0M296.3,132.5h0M300.1,151.6h0M297.2,136.1h0M300.2,142.7h0M299.0,145.5h0M297.9,137.0h0M295.8,139.8h0M296.6,153.5h0M295.8,146.7h0M298.3,123.6h0M300.0,124.5h0M299.7,118.0h0M295.9,144.9h0M294.8,152.4h0M293.3,127.3h0M298.0,130.4h0M295.4,144.4h0M293.7,141.7h0M295.7,139.6h0M295.1,127.7h0M295.2,151.8h0M298.6,119.2h0M298.0,130.2h0M295.6,130.8h0M298.9,144.5h0M294.9,127.2h0M300.2,136.9h0M294.4,123.3h0M297.9,150.2h0M298.8,141.3h0M299.4,134.8h0M297.2,148.0h0M300.5,142.9h0M298.3,124.2h0M298.9,138.6h0M294.7,120.6h0M295.2,154.7h0M297.0,142.9h0M297.7,129.2h0M294.2,124.9h0M299.0,152.8h0M296.1,124.5h0M297.1,132.4h0M297.5,118.6h0M299.7,125.4h0M295.9,141.8h0M297.8,130.4h0M298.0,149.9h0M298.4,149.3h0M296.0,136.7h0M295.5,133.2h0M297.1,136.6h0M298.1,127.9h0M298.5,118.9h0M294.8,136.6h0M296.9,131.2h0M297.7,141.5h0M294.8,118.9h0M294.2,130.8h0M300.7,118.9h0M293.9,144.2h0M297.3,142.1h0M296.0,150.3h0M294.0,116.9h0M295.7,144.1h0M294.9,154.3h0M296.6,136.4h0M300.7,128.0h0M294.7,120.8h0M296.3,126.3h0M298.6,149.3h0M298.1,138.3h0M294.0,149.6h0M295.5,122.2h0M295.7,141.0h0M300.8,136.4h0M296.9,141.6h0M295.3,134.4h0M297.2,145.0h0M297.2,147.8h0M294.9,136.7h0M298.7,129.5h0M299.0,124.6h0M297.1,142.8h0M297.6,138.4h0M299.7,136.0h0M301.0,134.1h0M298.3,143.4h0M293.5,127.9h0M297.3,147.9h0M298.5,141.3h0M295.8,129.4h0M298.9,143.3h0M296.2,138.6h0M298.0,151.6h0M298.1,125.7h0M298.7,142.9h0M300.8,139.7h0M298.7,121.8h0M298.7,122.5h0M299.0,133.6h0M295.1,147.4h0M298.1,126.2h0M298.3,117.4h0M294.3,137.4h0M299.1,153.1h0M295.3,154.2h0M297.2,125.1h0M297.5,122.6h0M299.2,143.4h0M299.5,139.5h0M297.1,123.8h0M300.3,137.3h0M296.9,126.3h0M297.8,133.3h0M300.8,144.1h0M295.8,130.3h0M298.9,124.4h0M300.4,149.2h0M294.4,145.4h0M299.2,116.1h0M298.5,127.3h0M297.6,149.3h0M299.6,131.3h0M300.1,124.1h0M294.7,151.8h0M297.2,125.6h0M298.3,128.1h0M299.0,130.6h0M301.1,128.4h0M299.2,120.8h0M299.6,116.7h0M294.4,137.7h0M296.8,125.7h0M300.7,128.4h0M301.2,130.0h0M299.3,123.9h0M295.9,130.2h0M299.1,148.7h0M297.5,121.1h0M298.7,147.2h0M298.1,119.4h0M299.9,125.9h0M298.6,151.4h0M301.1,139.5h0M297.2,117.3h0M297.2,118.9h0M298.5,153.8h0M297.7,115.9h0M293.6,133.6h0M301.1,128.5h0M296.1,137.2h0M297.3,133.2h0M294.2,137.4h0M295.1,126.5h0M299.9,151.3h0M295.5,132.8h0M296.0,138.1h0M299.4,145.7h0M295.5,125.1h0M298.8,134.7h0M297.9,129.3h0M300.5,139.5h0M297.2,119.6h0M296.1,122.6h0M295.6,152.3h0M296.2,117.4h0M293.0,129.2h0M294.2,132.9h0M294.9,122.4h0M295.8,128.7h0M299.5,118.4h0M300.7,123.5h0M296.3,137.0h0M295.8,121.1h0M295.8,125.9h0M298.3,134.3h0M297.2,136.6h0M294.2,133.3h0M297.4,151.5h0M295.8,121.6h0M294.4,133.5h0M299.0,151.7h0M293.9,130.4h0M296.9,140.7h0M299.7,135.5h0M297.6,125.6h0M299.9,153.6h0M295.8,127.9h0M300.3,122.7h0M293.5,127.6h0M300.7,142.5h0M296.8,140.7h0M292.9,135.2h0M295.6,125.5h0M300.6,149.5h0M298.7,138.1h0M299.2,138.5h0M300.0,130.4h0M293.9,116.3h0M295.9,117.0h0M297.0,133.5h0M300.2,116.6h0M300.1,122.6h0M294.2,135.4h0M301.3,147.3h0M297.8,128.3h0M296.0,149.2h0M294.0,132.2h0M296.7,139.5h0M297.5,142.8h0M297.0,125.4h0M295.7,117.9h0M300.0,119.5h0M297.1,127.2h0M295.7,133.8h0M299.5,131.7h0M295.1,142.7h0M296.7,140.5h0M294.2,131.6h0M295.2,130.8h0M300.7,136.6h0M298.3,127.5h0M297.5,117.8h0M298.5,138.0h0M298.5,122.6h0M297.5,117.5h0M296.2,139.2h0M294.4,127.7h0M293.2,130.3h0M294.7,145.5h0M296.7,148.3h0M294.0,148.6h0M298.3,120.2h0M296.0,133.6h0M295.5,136.7h0M295.6,136.0h0M297.2,144.3h0M295.0,131.7h0M300.2,133.4h0M297.2,153.2h0M294.0,124.7h0M293.9,127.7h0M300.5,118.0h0M297.9,130.8h0M295.9,137.0h0M299.0,131.9h0M294.0,140.6h0M300.0,116.5h0M300.0,149.8h0M298.6,119.2h0M294.2,144.4h0M296.8,151.2h0M300.1,138.3h0M298.0,124.8h0M294.9,128.5h0M294.6,113.3h0M297.4,111.7h0M297.0,115.2h0M299.7,113.3h0M297.2,111.1h0M299.0,113.8h0M295.2,114.3h0M300.6,111.5h0M299.9,111.2h0M297.2,112.8h0M299.7,112.2h0M296.0,110.4h0M300.2,111.9h0M296.2,112.5h0M299.8,113.6h0M299.3,111.8h0M300.4,111.1h0M298.7,113.2h0M294.8,113.5h0M295.9,113.0h0M298.2,114.7h0M300.2,111.3h0M298.5,115.8h0M294.3,115.4h0M296.3,110.7h0M296.3,112.8h0M295.0,111.0h0M295.4,111.1h0M297.4,114.6h0M296.5,111.7h0M295.9,113.8h0M296.8,112.4h0M300.0,112.3h0M297.9,113.1h0M298.8,112.2h0M300.0,112.8h0M294.5,111.6h0M299.5,115.3h0M294.8,112.4h0M295.4,113.4h0M298.7,113.9h0M298.8,113.5h0M298.0,113.5h0M297.2,114.1h0M298.6,113.9h0M296.9,83.3h0M295.7,104.2h0M295.8,105.4h0M295.3,89.9h0M294.9,104.7h0M299.7,105.3h0M299.6,95.5h0M296.5,90.8h0M296.8,84.7h0M296.1,89.0h0M298.8,105.3h0M297.3,90.9h0M295.6,85.9h0M299.3,104.0h0M299.5,88.1h0M294.9,100.5h0M297.1,99.5h0M295.8,107.0h0M298.0,88.0h0M296.6,94.1h0M296.2,84.4h0M296.3,95.4h0M297.9,103.1h0M297.3,101.6h0M297.2,100.4h0M298.2,83.3h0M297.2,101.9h0M299.6,104.8h0M297.0,98.2h0M298.8,105.0h0M299.5,96.4h0M297.9,91.5h0M297.8,90.7h0M298.8,102.6h0M298.4,103.5h0M295.7,94.7h0M296.9,89.8h0M295.5,95.8h0M294.8,73.2h0M298.3,68.8h0M296.4,67.3h0M296.0,64.8h0M294.8,43.3h0" stroke="#1b6fdd" stroke-width="2.1" stroke-linecap="round" fill="none"/>
<line x1="318.08" y1="129.20" x2="318.08" y2="138.70" stroke="#38ab69" stroke-width="1" />
<line x1="318.08" y1="145.40" x2="318.08" y2="154.60" stroke="#38ab69" stroke-width="1" />
<line x1="315.98" y1="129.20" x2="320.18" y2="129.20" stroke="#38ab69" stroke-width="1" />
<line x1="315.98" y1="154.30" x2="320.18" y2="154.30" stroke="#38ab69" stroke-width="1" />
<rect x="311.73" y="139.20" width="12.70" height="5.70" stroke="#38ab69" fill="none" stroke-width="1" />
<rect x="316.78" y="140.70" width="2.60" height="2.60" stroke="#38ab69" fill="none" stroke-width="0.6" />
<line x1="315.98" y1="79.40" x2="320.18" y2="79.40" stroke="#c6e6d2" stroke-width="1" />
<line x1="316.88" y1="153.60" x2="319.28" y2="155.80" stroke="#c6e6d2" stroke-width="0.7" />
<line x1="316.88" y1="155.80" x2="319.28" y2="153.60" stroke="#c6e6d2" stroke-width="0.7" />
<path d="M330.3,130.7h0M333.8,141.9h0M330.6,149.7h0M333.6,136.4h0M331.8,152.4h0M328.8,145.6h0M335.8,149.7h0M335.9,138.1h0M330.0,144.1h0M331.8,149.9h0M329.4,148.0h0M332.7,154.4h0M334.5,152.6h0M332.2,133.0h0M335.1,131.0h0M330.3,146.6h0M334.6,131.8h0M333.0,144.4h0M334.1,151.5h0M336.5,144.5h0M333.9,135.9h0M332.9,130.9h0M334.5,145.5h0M332.4,141.7h0M330.3,147.6h0M330.7,149.4h0M332.4,140.0h0M329.1,141.8h0M333.2,154.1h0M336.3,149.6h0M333.0,131.6h0M332.1,145.4h0M331.9,153.0h0M333.1,143.5h0M332.1,152.1h0M335.4,142.2h0M335.2,143.0h0M333.2,128.4h0M333.7,146.2h0M330.1,147.2h0M332.1,147.6h0M330.1,145.7h0M330.2,134.0h0M335.1,133.3h0M330.3,146.5h0M334.8,140.0h0M334.7,137.9h0M331.4,143.0h0M329.0,152.4h0M330.0,133.7h0M333.1,132.8h0M333.6,140.9h0M331.2,130.9h0M332.9,146.1h0M329.9,150.4h0M333.3,132.0h0M334.4,143.6h0M334.0,140.8h0M332.6,137.4h0M332.8,144.4h0M327.8,144.9h0M330.6,153.1h0M331.5,150.3h0M329.3,147.4h0M328.8,142.4h0M335.1,132.7h0M333.4,152.0h0M332.6,150.0h0M333.4,151.0h0M334.9,153.8h0M333.3,149.6h0M331.6,139.9h0M331.4,147.3h0M335.4,151.7h0M335.7,138.5h0M329.4,142.5h0M334.4,152.2h0M333.1,133.3h0M330.9,149.4h0M333.5,152.2h0M330.7,140.6h0M333.8,150.9h0M332.6,152.5h0M332.8,131.9h0M329.2,147.7h0M334.9,152.1h0M335.8,142.2h0M334.5,145.0h0M330.8,147.7h0M334.0,139.6h0M329.6,147.7h0M332.6,139.9h0M331.0,153.9h0M332.0,136.5h0M330.7,146.9h0M329.3,150.2h0M331.8,154.6h0M330.6,135.7h0M329.3,144.2h0M331.0,147.2h0M329.7,140.8h0M327.9,145.1h0M335.5,146.8h0M329.3,140.8h0M334.8,147.8h0M331.7,135.9h0M329.2,143.6h0M331.7,147.5h0M332.2,138.3h0M328.9,136.9h0M332.5,133.9h0M328.9,152.7h0M330.4,145.1h0M334.0,129.5h0M330.1,134.0h0M331.6,150.4h0M335.2,141.5h0M330.9,131.9h0M329.5,132.4h0M330.4,146.9h0M334.5,140.2h0M331.0,139.0h0M333.7,145.6h0M336.2,145.8h0M332.9,135.2h0M329.8,143.7h0M332.0,144.2h0M331.0,133.5h0M332.0,133.6h0M333.1,138.7h0M335.4,147.2h0M333.4,150.6h0M332.2,153.1h0M334.7,149.0h0M332.2,140.9h0M330.1,151.1h0M333.3,152.4h0M330.6,142.0h0M330.2,147.3h0M331.5,130.4h0M332.1,132.1h0M328.5,143.2h0M330.9,144.7h0M335.2,134.2h0M332.2,151.2h0M331.4,135.3h0M331.9,154.5h0M333.6,146.8h0M332.2,140.7h0M331.4,142.5h0M332.7,150.6h0M330.4,142.4h0M333.7,149.6h0M331.6,142.4h0M334.1,145.8h0M331.2,141.1h0M333.2,138.5h0M329.5,144.8h0M332.1,152.4h0M332.1,141.6h0M327.8,145.5h0M329.6,132.0h0M331.9,142.0h0M334.2,137.8h0M334.3,152.7h0M334.6,146.4h0M334.7,139.9h0M335.4,146.8h0M329.9,137.8h0M329.8,147.2h0M329.7,146.0h0M334.1,140.3h0M329.8,153.7h0M331.0,154.6h0M329.9,131.0h0M334.5,130.3h0M329.5,145.7h0M330.0,140.0h0M332.8,135.2h0M333.5,140.4h0M328.7,137.9h0M332.7,146.4h0M332.4,139.2h0M332.6,148.3h0M332.3,153.4h0M334.9,145.5h0M334.6,137.2h0M334.6,141.0h0M331.1,140.4h0M329.0,147.0h0M331.9,142.4h0M329.0,150.4h0M333.4,144.7h0M332.0,142.8h0M333.8,150.6h0M334.2,130.6h0M333.9,138.0h0M333.5,146.5h0M331.1,134.7h0M334.1,148.0h0M333.0,136.4h0M330.3,150.3h0M334.7,150.3h0M331.9,145.5h0M332.4,143.3h0M330.1,152.2h0M334.4,133.4h0M332.0,153.0h0M334.4,145.7h0M334.9,142.8h0M332.3,144.8h0M332.7,134.6h0M331.9,151.7h0M330.6,135.3h0M334.2,133.8h0M335.5,143.4h0M328.4,148.8h0M329.1,141.3h0M332.0,153.2h0M328.9,143.2h0M331.8,147.5h0M330.9,148.3h0M330.4,131.6h0M334.4,142.2h0M332.8,143.8h0M335.0,141.2h0M329.5,144.5h0M331.3,136.5h0M333.1,140.2h0M334.3,138.5h0M331.6,153.7h0M329.7,143.9h0M331.3,139.7h0M332.7,143.7h0M335.8,139.1h0M333.1,134.7h0M334.6,132.3h0M334.4,141.9h0M331.6,138.7h0M332.2,147.1h0M334.5,146.9h0M333.8,137.3h0M331.5,133.5h0M329.8,153.6h0M334.2,144.6h0M330.8,150.6h0M330.6,151.4h0M330.2,139.7h0M333.4,131.5h0M333.3,137.6h0M335.2,146.2h0M332.8,146.4h0M332.1,140.9h0M334.9,132.5h0M329.3,142.2h0M332.8,150.0h0M336.0,143.7h0M331.1,135.2h0M329.8,152.6h0M329.6,141.4h0M329.1,133.0h0M334.1,149.2h0M331.4,145.2h0M334.1,135.8h0M334.9,149.0h0M328.5,144.0h0M330.8,146.3h0M330.6,141.7h0M330.7,153.6h0M329.1,134.2h0M330.5,150.8h0M331.1,152.2h0M331.9,136.2h0M332.4,148.9h0M336.6,145.6h0M329.2,153.8h0M329.6,146.3h0M334.8,140.6h0M330.9,134.7h0M332.5,137.2h0M330.9,154.6h0M334.9,146.8h0M335.5,138.0h0M332.6,151.4h0M329.4,151.9h0M331.3,146.7h0M333.5,134.2h0M332.7,154.1h0M330.6,136.9h0M331.4,137.6h0M328.6,149.6h0M331.6,154.8h0M334.4,146.4h0M331.4,147.0h0M331.9,149.5h0M329.6,143.4h0M333.5,135.6h0M331.6,133.2h0M331.2,144.4h0M334.0,133.5h0M330.8,150.0h0M329.4,141.8h0M333.1,133.8h0M334.0,139.0h0M328.7,142.6h0M330.8,144.3h0M334.8,152.2h0M332.2,138.6h0M331.7,129.4h0M329.4,137.8h0M330.3,144.4h0M332.8,146.1h0M335.0,152.3h0M333.3,131.9h0M335.9,143.9h0M331.6,133.5h0M329.2,151.7h0M331.0,137.3h0M331.2,136.7h0M328.2,145.1h0M328.7,148.6h0M334.3,129.5h0M335.0,132.4h0M329.2,149.6h0M329.4,131.1h0M335.9,138.4h0M330.7,128.4h0M330.4,144.8h0M329.7,145.8h0M330.3,153.0h0M329.0,147.2h0M331.9,143.7h0M333.8,130.4h0M328.7,148.9h0M332.1,141.2h0M329.8,140.4h0M334.1,147.5h0M334.9,152.3h0M334.7,150.0h0M332.4,142.3h0M329.4,142.5h0M334.1,145.1h0M329.3,153.0h0M334.0,152.6h0M330.6,143.2h0M334.8,151.4h0M330.7,142.0h0M334.1,139.4h0M332.1,142.2h0M330.0,148.2h0M332.1,151.6h0M331.7,154.1h0M330.7,128.4h0M332.5,140.6h0M332.5,145.0h0M333.5,149.8h0M331.1,149.9h0M332.9,154.6h0M330.2,141.4h0M332.3,135.8h0M330.5,153.4h0M334.4,138.6h0M329.6,148.0h0M330.8,141.2h0M329.2,152.2h0M330.7,137.2h0M332.4,129.2h0M329.9,149.3h0M329.6,146.7h0M334.6,135.7h0M330.9,150.1h0M329.9,148.9h0M331.5,134.0h0M334.5,150.7h0M334.4,145.8h0M335.5,148.6h0M332.5,146.0h0M331.1,150.3h0M332.2,148.7h0M329.2,152.7h0M333.4,134.1h0M334.4,154.7h0M334.9,132.9h0M334.3,133.1h0M333.5,145.3h0M334.5,138.6h0M330.3,145.9h0M332.7,139.7h0M329.4,149.4h0M335.0,140.5h0M332.3,131.0h0M329.7,143.5h0M335.2,136.2h0M333.2,148.4h0M329.9,143.7h0M334.5,141.6h0M333.0,135.1h0M333.2,140.1h0M334.6,140.4h0M330.7,149.6h0M330.3,148.3h0M332.7,147.1h0M330.2,149.9h0M333.7,143.3h0M332.0,151.7h0M330.0,137.4h0M329.7,150.5h0M329.4,149.0h0M332.8,148.1h0M335.1,146.5h0M334.5,139.5h0M334.7,136.7h0M332.6,142.1h0M334.2,147.2h0M331.1,134.9h0M331.1,140.0h0M334.9,147.7h0M330.3,142.4h0M333.1,142.7h0M332.6,151.3h0M329.9,105.6h0M332.5,96.2h0M333.7,102.7h0M334.2,110.1h0M331.8,107.8h0M334.3,125.6h0M329.8,81.4h0M334.3,92.0h0M333.1,122.8h0M333.8,117.7h0M331.9,89.6h0M332.6,102.9h0M333.9,91.2h0M330.7,91.1h0M330.5,120.5h0" stroke="#38ab69" stroke-width="2.1" stroke-linecap="round" fill="none"/>
<line x1="352.96" y1="141.30" x2="352.96" y2="144.30" stroke="#b077df" stroke-width="1" />
<line x1="352.96" y1="146.90" x2="352.96" y2="149.70" stroke="#b077df" stroke-width="1" />
<line x1="350.86" y1="141.30" x2="355.06" y2="141.30" stroke="#b077df" stroke-width="1" />
<line x1="350.86" y1="149.40" x2="355.06" y2="149.40" stroke="#b077df" stroke-width="1" />
<rect x="346.61" y="144.80" width="12.70" height="1.60" stroke="#b077df" fill="none" stroke-width="1" />
<rect x="351.66" y="144.30" width="2.60" height="2.60" stroke="#b077df" fill="none" stroke-width="0.6" />
<line x1="350.86" y1="110.30" x2="355.06" y2="110.30" stroke="#e0cdf6" stroke-width="1" />
<line x1="351.76" y1="148.70" x2="354.16" y2="150.90" stroke="#e0cdf6" stroke-width="0.7" />
<line x1="351.76" y1="150.90" x2="354.16" y2="148.70" stroke="#e0cdf6" stroke-width="0.7" />
<path d="M365.1,136.2h0M368.4,144.9h0M368.9,144.0h0M364.9,137.0h0M367.9,150.9h0M366.9,145.5h0M365.8,142.2h0M363.4,149.7h0M363.7,144.0h0M364.9,151.9h0M365.7,135.0h0M368.6,131.7h0M367.8,143.4h0M367.0,142.8h0M365.7,139.2h0M369.8,144.1h0M366.4,141.4h0M363.4,144.6h0M363.2,140.5h0M368.5,147.0h0M364.0,146.2h0M366.7,149.7h0M367.2,144.4h0M366.1,145.1h0M368.9,133.4h0M368.9,133.8h0M369.1,150.0h0M367.4,143.9h0M369.3,136.1h0M368.9,142.5h0M365.3,146.9h0M364.0,141.4h0M365.4,154.8h0M366.1,141.2h0M367.9,149.8h0M365.3,138.1h0M363.4,142.0h0M366.1,137.4h0M366.9,130.8h0M370.2,141.3h0M369.3,137.4h0M369.6,149.0h0M365.4,151.8h0M369.5,144.1h0M365.4,145.3h0M367.5,153.9h0M367.3,147.0h0M365.3,152.1h0M367.3,153.8h0M365.6,139.0h0M369.8,142.7h0M365.3,139.7h0M369.2,144.9h0M364.6,140.7h0M362.9,141.5h0M366.6,149.5h0M370.0,145.4h0M367.9,147.3h0M365.5,138.6h0M367.1,148.6h0M365.8,145.3h0M368.3,148.3h0M366.2,154.8h0M364.9,152.5h0M370.8,145.9h0M362.8,142.4h0M365.0,153.6h0M366.0,137.6h0M365.8,145.0h0M367.4,147.6h0M367.0,151.8h0M365.8,132.1h0M369.6,145.9h0M369.0,142.5h0M365.3,136.9h0M365.4,154.2h0M365.5,154.8h0M367.2,141.8h0M368.1,145.1h0M368.9,141.2h0M365.9,135.3h0M368.6,134.9h0M370.2,150.6h0M366.9,151.8h0M364.5,146.1h0M367.6,124.5h0M363.7,147.9h0M368.2,142.6h0M368.5,152.6h0M365.0,134.7h0M365.1,153.6h0M365.0,148.7h0M366.6,145.3h0M369.8,147.9h0M369.0,147.5h0M366.2,149.6h0M364.2,137.8h0M367.2,154.7h0M364.7,145.3h0M365.8,138.3h0M370.5,151.3h0M366.7,130.0h0M368.4,147.9h0M369.9,139.7h0M363.7,144.5h0M367.7,145.7h0M368.6,142.6h0M364.1,150.3h0M363.6,141.8h0M365.8,144.8h0M366.0,139.3h0M368.6,151.3h0M370.1,139.5h0M368.3,148.6h0M366.4,144.0h0M370.4,151.8h0M369.2,136.2h0M366.6,150.1h0M366.8,151.2h0M367.2,143.6h0M364.0,140.5h0M368.4,142.7h0M368.8,141.3h0M366.9,147.7h0M367.7,151.2h0M370.2,145.4h0M367.5,155.0h0M368.6,150.7h0M369.4,153.0h0M368.9,147.9h0M366.7,145.8h0M368.9,133.8h0M371.1,142.9h0M363.3,143.4h0M370.3,146.6h0M364.9,146.7h0M370.6,142.2h0M368.2,148.3h0M369.3,150.2h0M365.9,144.2h0M366.0,154.3h0M364.6,144.2h0M363.5,142.5h0M364.8,137.4h0M364.3,141.5h0M369.5,145.8h0M367.3,144.4h0M370.0,140.9h0M370.8,144.4h0M366.6,144.6h0M366.1,128.8h0M370.1,149.6h0M365.4,133.1h0M367.2,142.2h0M369.7,149.2h0M364.6,147.4h0M364.9,142.8h0M368.0,147.4h0M363.9,151.5h0M369.4,152.8h0M368.7,146.7h0M367.5,149.8h0M368.9,139.7h0M364.9,137.7h0M369.3,147.7h0M367.3,136.5h0M366.2,145.3h0M369.1,146.9h0M366.7,148.0h0M364.0,152.3h0M368.5,140.3h0M363.9,151.7h0M367.3,133.3h0M364.9,144.7h0M366.2,142.2h0M366.5,152.4h0M368.6,145.3h0M368.1,149.3h0M366.1,147.1h0M365.5,137.8h0M369.2,148.8h0M364.6,153.6h0M367.6,138.2h0M367.8,130.7h0M368.2,141.6h0M362.7,142.6h0M363.8,149.6h0M368.0,147.0h0M369.3,144.7h0M368.1,140.5h0M371.5,142.9h0M368.2,136.8h0M366.6,152.8h0M371.2,143.2h0M366.2,129.3h0M363.7,141.7h0M366.4,137.8h0M363.4,140.6h0M367.6,148.5h0M367.3,147.7h0M364.6,148.5h0M367.9,140.7h0M366.9,138.5h0M368.6,144.8h0M368.9,153.0h0M368.8,138.1h0M368.5,150.2h0M363.6,141.7h0M367.6,148.9h0M368.1,153.0h0M365.0,151.7h0M366.1,144.3h0M367.2,148.7h0M365.3,149.7h0M364.7,137.3h0M365.4,151.1h0M366.8,131.7h0M368.4,154.1h0M370.3,139.9h0M368.4,132.4h0M369.6,139.3h0M367.1,128.3h0M368.0,148.1h0M363.9,152.0h0M368.0,134.7h0M370.0,142.1h0M365.9,145.5h0M367.6,136.5h0M363.8,140.8h0M371.0,143.6h0M366.5,145.3h0M366.8,140.1h0M365.4,153.5h0M370.0,148.8h0M370.5,144.6h0M366.5,153.0h0M367.2,145.6h0M365.3,140.9h0M367.8,131.7h0M368.0,145.5h0M369.8,149.2h0M363.3,151.7h0M367.1,151.4h0M368.7,127.9h0M363.9,152.3h0M368.2,143.5h0M366.3,146.6h0M364.1,148.6h0M365.3,143.4h0M370.6,145.2h0M364.8,148.0h0M366.9,140.9h0M369.3,153.3h0M365.7,155.2h0M364.2,137.9h0M367.7,153.1h0M368.0,151.0h0M363.4,151.2h0M369.2,146.8h0M369.1,145.4h0M367.9,141.8h0M365.9,135.7h0M370.4,151.4h0M364.7,141.5h0M371.3,141.5h0M367.5,150.6h0M369.7,146.9h0M367.5,142.8h0M367.9,149.4h0M370.6,151.0h0M366.6,149.9h0M365.9,147.6h0M370.1,146.7h0M371.5,143.4h0M364.2,140.6h0M370.4,142.7h0M368.8,151.9h0M365.2,139.2h0M365.4,152.9h0M362.9,142.2h0M369.6,145.8h0M364.4,139.2h0M368.3,131.9h0M369.4,148.8h0M371.5,142.8h0M363.5,142.9h0M369.4,140.5h0M363.8,150.6h0M364.0,150.9h0M369.4,152.1h0M365.2,154.0h0M368.5,137.7h0M369.1,134.4h0M366.9,145.4h0M366.3,142.6h0M369.6,147.5h0M367.9,137.6h0M371.6,142.4h0M368.2,153.5h0M366.6,141.0h0M364.0,146.0h0M370.2,151.5h0M368.7,139.3h0M365.1,153.8h0M368.6,150.7h0M365.3,148.3h0M366.6,145.3h0M363.9,142.9h0M365.3,134.3h0M366.8,140.0h0M368.0,135.2h0M368.7,144.8h0M369.8,149.2h0M370.3,149.1h0M369.0,140.9h0M364.7,142.5h0M369.2,151.0h0M368.9,151.0h0M363.6,143.6h0M363.3,149.0h0M370.3,149.3h0M364.5,149.1h0M370.1,141.1h0M370.4,144.1h0M366.3,142.2h0M367.3,142.7h0M365.6,127.7h0M363.6,141.0h0M369.4,152.3h0M367.7,136.6h0M365.5,152.2h0M364.4,141.5h0M363.8,145.4h0M367.9,129.3h0M365.2,141.2h0M365.7,128.9h0M370.0,142.8h0M366.5,129.3h0M365.7,134.1h0M367.6,150.2h0M366.2,152.3h0M367.2,151.8h0M366.7,148.2h0M367.2,127.4h0M365.2,150.6h0M367.1,141.7h0M370.1,146.3h0M365.2,147.1h0M366.5,139.6h0M366.9,132.5h0M366.7,145.2h0M365.8,148.6h0M368.1,148.1h0M369.0,135.6h0M365.8,127.9h0M366.7,147.3h0M369.1,132.8h0M363.1,150.6h0M368.6,148.4h0M366.0,145.0h0M367.1,142.1h0M368.5,138.4h0M364.9,143.7h0M363.3,142.0h0M368.4,142.1h0M370.2,146.8h0M366.7,142.0h0M371.0,143.7h0M367.2,140.4h0M368.2,138.3h0M368.1,146.3h0M369.2,151.3h0M368.3,150.8h0M367.8,133.2h0M368.7,148.3h0M366.0,133.2h0M370.1,151.2h0M367.8,146.2h0M367.1,149.7h0M367.8,137.3h0M366.1,152.6h0M366.1,132.0h0M370.3,148.2h0M364.8,144.7h0M366.2,139.2h0M367.8,145.6h0M367.0,153.8h0M364.0,144.4h0M365.1,141.8h0M369.4,142.0h0M364.2,148.4h0M366.9,146.0h0M364.6,152.7h0M363.8,144.5h0M369.8,137.2h0M366.8,131.9h0M366.9,153.1h0M363.7,151.1h0M365.1,153.4h0M367.2,138.7h0M370.4,148.2h0M371.1,142.3h0M366.4,152.1h0M367.1,136.4h0M365.2,140.0h0M369.7,151.2h0M365.0,153.5h0M365.6,145.4h0M365.9,131.8h0M368.9,145.2h0M369.0,153.8h0M366.6,148.6h0M366.0,147.4h0M370.8,143.6h0M364.0,145.0h0M368.9,140.0h0M365.6,149.4h0M370.3,150.9h0M365.2,149.5h0M369.2,137.4h0M369.3,152.7h0M365.8,151.8h0M365.2,138.5h0M368.2,141.7h0M365.8,129.8h0M367.5,137.4h0M366.3,132.9h0M368.4,148.9h0M364.4,146.1h0M368.6,140.8h0M365.3,145.7h0M367.5,147.4h0M368.8,149.8h0M365.1,137.4h0M366.1,136.5h0M367.9,134.4h0M368.0,154.1h0M370.1,149.6h0M364.4,153.6h0M366.6,132.3h0M368.0,125.7h0M367.1,149.6h0M366.1,136.9h0M364.9,139.5h0M366.6,144.3h0M366.0,152.6h0M363.9,146.3h0M368.1,150.8h0M370.4,141.8h0M366.6,135.7h0M366.8,121.7h0M369.0,120.2h0M369.4,118.8h0M369.5,117.3h0M368.3,115.8h0M365.4,112.9h0M366.3,110.5h0" stroke="#b077df" stroke-width="2.1" stroke-linecap="round" fill="none"/>
<line x1="387.84" y1="146.40" x2="387.84" y2="149.00" stroke="#d0a000" stroke-width="1" />
<line x1="387.84" y1="150.80" x2="387.84" y2="153.20" stroke="#d0a000" stroke-width="1" />
<line x1="385.74" y1="146.40" x2="389.94" y2="146.40" stroke="#d0a000" stroke-width="1" />
<line x1="385.74" y1="152.90" x2="389.94" y2="152.90" stroke="#d0a000" stroke-width="1" />
<rect x="381.49" y="149.50" width="12.70" height="0.80" stroke="#d0a000" fill="none" stroke-width="1" />
<rect x="386.54" y="148.60" width="2.60" height="2.60" stroke="#d0a000" fill="none" stroke-width="0.6" />
<line x1="385.74" y1="126.40" x2="389.94" y2="126.40" stroke="#f1e0b0" stroke-width="1" />
<line x1="386.64" y1="152.20" x2="389.04" y2="154.40" stroke="#f1e0b0" stroke-width="0.7" />
<line x1="386.64" y1="154.40" x2="389.04" y2="152.20" stroke="#f1e0b0" stroke-width="0.7" />
<path d="M400.2,142.9h0M400.7,139.7h0M400.5,139.8h0M402.9,137.4h0M399.5,133.2h0M402.7,145.7h0M398.6,153.0h0M402.8,145.5h0M402.5,146.5h0M400.9,135.0h0M400.3,149.4h0M403.8,148.4h0M402.2,153.7h0M402.0,142.2h0M400.4,153.2h0M405.7,137.6h0M402.3,140.8h0M400.8,140.4h0M404.1,148.2h0M402.6,131.0h0M403.7,147.2h0M399.8,154.2h0M405.9,138.2h0M401.6,154.4h0M404.9,136.8h0M398.2,144.7h0M403.2,129.6h0M399.9,133.4h0M398.4,135.8h0M400.7,139.4h0M403.3,139.5h0M404.2,141.5h0M402.5,151.3h0M404.3,129.9h0M403.6,141.9h0M402.8,133.4h0M401.9,133.7h0M400.0,148.4h0M400.4,148.7h0M402.5,138.2h0M400.7,140.8h0M403.2,130.5h0M400.3,150.0h0M402.9,144.5h0M399.8,153.1h0M403.1,140.5h0M405.0,147.4h0M404.4,130.3h0M401.3,130.9h0M404.6,140.4h0M399.1,145.4h0M401.3,133.8h0M400.7,129.0h0M401.2,148.3h0M399.2,133.6h0M400.9,152.9h0M402.7,145.3h0M403.5,150.2h0M401.6,150.3h0M405.0,152.8h0M403.4,147.1h0M403.8,131.0h0M404.2,142.7h0M401.0,143.3h0M403.6,129.6h0M401.8,131.1h0M400.3,144.6h0M403.1,142.9h0M403.2,132.9h0M398.9,143.6h0M403.4,149.4h0M405.5,145.8h0M398.7,155.0h0M405.4,130.7h0M401.5,130.5h0M405.4,147.6h0M401.3,150.7h0M401.6,147.2h0M403.1,135.5h0M400.3,146.1h0M400.1,139.4h0M403.2,145.2h0M400.8,152.3h0M398.6,148.1h0M400.6,150.2h0M404.7,148.0h0M403.5,151.0h0M398.9,146.1h0M402.0,150.8h0M402.6,129.8h0M399.7,148.4h0M404.1,143.4h0M405.4,153.0h0M403.0,149.9h0M404.1,153.6h0M401.3,154.8h0M400.0,153.9h0M403.3,136.9h0M404.5,138.7h0M403.6,135.6h0M399.8,132.6h0M405.8,130.7h0M404.5,151.3h0M403.3,149.1h0M399.9,152.0h0M399.9,140.8h0M399.6,140.6h0M403.7,129.3h0M402.3,154.3h0M405.3,142.8h0M399.6,153.4h0M400.8,146.7h0M400.2,145.4h0M404.4,144.0h0M403.9,132.3h0M403.6,135.5h0M401.9,153.2h0M400.4,142.7h0M401.3,150.8h0M399.5,151.2h0M403.7,147.7h0M402.6,134.1h0M402.2,152.9h0M404.3,151.7h0M399.4,138.9h0M399.5,128.7h0M400.4,150.8h0M402.9,133.3h0M402.0,152.7h0M404.3,141.5h0M400.2,141.8h0M401.0,142.6h0M400.9,146.8h0M400.7,129.3h0M403.3,137.1h0M400.8,148.4h0M401.3,143.2h0M404.0,154.7h0M399.2,130.4h0M403.0,138.7h0M401.9,134.2h0M401.2,144.7h0M401.6,129.5h0M399.5,131.8h0M399.0,144.4h0M403.4,139.2h0M400.6,144.7h0M400.2,138.7h0M399.7,132.0h0M403.0,145.5h0M403.2,130.1h0M402.7,138.8h0M398.5,135.8h0M401.6,141.0h0M401.4,133.4h0M399.9,149.9h0M403.9,147.8h0M401.1,146.0h0M404.6,144.4h0M401.9,153.9h0M400.3,150.5h0M404.6,134.9h0M398.8,135.8h0M400.9,149.5h0M401.0,134.6h0M399.2,149.1h0M403.1,137.6h0M400.6,144.0h0M404.7,142.0h0M404.6,150.4h0M398.8,142.9h0M400.0,141.7h0M403.3,138.0h0M403.6,144.7h0M400.1,143.8h0M400.9,141.2h0M404.9,129.3h0M405.4,145.6h0M400.9,130.9h0M403.2,141.5h0M405.7,137.9h0M403.0,154.9h0M401.4,135.8h0M405.3,130.7h0M402.6,145.2h0M403.0,128.6h0M404.5,130.2h0M399.2,140.9h0M399.3,143.7h0M398.8,153.2h0M400.2,145.5h0M405.6,144.6h0M403.5,152.5h0M401.0,135.8h0M402.6,134.4h0M401.6,141.7h0M401.8,131.3h0M400.9,138.4h0M405.1,154.3h0M403.9,144.2h0M398.3,146.4h0M402.7,143.8h0M405.3,153.6h0M401.0,147.2h0M399.2,152.3h0M399.1,134.1h0M402.2,136.8h0M401.2,140.4h0M402.2,141.4h0M403.4,145.7h0M401.5,135.2h0M402.7,148.5h0M402.6,151.7h0M402.4,141.1h0M402.1,147.2h0M399.7,136.8h0M400.5,140.9h0M403.2,151.8h0M404.7,151.6h0M399.5,140.4h0M399.1,141.1h0M401.6,144.4h0M405.1,135.2h0M404.6,149.1h0M400.2,151.7h0M402.8,137.6h0M399.2,130.4h0M403.8,141.0h0M398.6,144.1h0M405.2,154.2h0M400.9,152.3h0M400.4,145.1h0M400.9,134.3h0M399.5,150.4h0M400.9,135.7h0M399.7,144.4h0M398.8,142.9h0M401.7,145.0h0M404.3,148.6h0M403.5,140.9h0M402.3,145.9h0M399.0,145.5h0M401.6,142.4h0M400.4,128.7h0M401.7,152.7h0M404.6,140.2h0M399.5,147.4h0M402.2,136.6h0M401.7,137.5h0M401.5,153.8h0M399.2,141.9h0M404.8,149.4h0M404.7,138.7h0M400.2,141.9h0M404.2,140.4h0M401.6,138.0h0M404.1,140.5h0M400.8,140.8h0M398.6,154.1h0M405.5,152.5h0M401.0,149.7h0M398.2,138.0h0M400.0,135.0h0M400.8,138.9h0M404.1,149.9h0M405.5,153.8h0M400.3,136.2h0M399.2,135.5h0M399.6,140.7h0M405.7,144.6h0M401.7,136.8h0M399.0,137.8h0M400.7,134.0h0M402.0,131.9h0M402.7,129.0h0M402.2,141.7h0M403.8,138.6h0M401.6,143.1h0M404.3,140.0h0M403.2,143.8h0M402.8,144.4h0M399.4,150.2h0M400.7,148.7h0M400.4,138.3h0M404.3,133.9h0M404.7,131.8h0M403.6,146.0h0M403.2,136.1h0M399.4,139.5h0M398.1,137.3h0M399.0,139.6h0M401.6,132.6h0M400.6,130.2h0M405.1,151.4h0M399.2,143.7h0M402.8,143.0h0M400.8,129.0h0M399.6,153.0h0M404.5,138.2h0M403.9,140.7h0M401.8,152.9h0M401.8,137.7h0M399.2,147.9h0M402.7,140.0h0M403.5,130.5h0M404.6,148.7h0M404.5,146.8h0M404.1,148.2h0M399.6,130.8h0M404.8,142.3h0M399.1,142.7h0M399.8,137.7h0M402.3,147.4h0M403.4,142.2h0M402.9,148.3h0M402.7,143.7h0M403.7,146.5h0M401.4,128.8h0M398.5,154.2h0M400.6,150.2h0M402.5,154.6h0M403.7,147.0h0M401.3,139.6h0M402.4,146.3h0M404.7,145.6h0M402.8,154.9h0M401.8,147.7h0M401.3,135.9h0M399.4,150.7h0M401.0,154.8h0M405.7,145.5h0M402.0,138.7h0M401.6,136.4h0M403.2,146.9h0M399.8,145.7h0M401.5,154.2h0M400.3,130.6h0M402.1,154.3h0M402.0,138.2h0M403.8,150.8h0M403.7,138.8h0M400.9,151.9h0M405.8,145.4h0M402.5,145.1h0M401.2,143.1h0M399.2,146.7h0M398.8,149.8h0M400.9,149.2h0M402.7,150.0h0M400.1,146.3h0M399.2,153.0h0M401.8,140.8h0M399.6,141.8h0M399.7,145.1h0M401.9,142.6h0M403.5,142.4h0M400.8,143.6h0M403.3,152.4h0M400.5,138.2h0M399.1,136.6h0M404.4,146.0h0M402.8,132.9h0M403.2,145.3h0M403.9,145.9h0M402.0,130.0h0M398.7,154.2h0M399.8,132.6h0M402.3,147.4h0M403.1,153.7h0M398.2,147.7h0M403.4,141.7h0M404.5,133.4h0M402.6,141.9h0M404.7,153.2h0M401.9,130.1h0M403.7,134.7h0M398.9,149.9h0M402.2,151.0h0M403.9,137.0h0M404.3,147.3h0M404.6,141.6h0M401.3,148.2h0M398.9,142.8h0M403.9,145.2h0M405.0,133.6h0M405.5,146.9h0M404.8,137.1h0M398.1,137.4h0M403.2,149.6h0M405.0,152.2h0M400.6,149.4h0M402.9,146.7h0M402.7,137.2h0M401.0,145.7h0M405.1,131.3h0M398.9,131.8h0M399.3,145.4h0M403.7,149.3h0M403.6,142.0h0M401.8,147.5h0M404.3,141.7h0M400.0,151.4h0M400.2,143.9h0M398.3,145.1h0M404.6,145.9h0M400.3,137.6h0M402.9,146.0h0M401.8,146.0h0M402.2,132.9h0M400.3,152.2h0M399.2,151.9h0M404.4,137.9h0M401.6,150.8h0M401.0,150.9h0M402.2,148.9h0M399.1,140.8h0M403.8,132.2h0M400.8,143.7h0M400.8,149.8h0M400.5,140.6h0M398.2,147.1h0M403.6,135.5h0M403.3,147.4h0M404.2,153.9h0M401.7,144.9h0M404.5,148.2h0M401.3,154.9h0M402.2,148.0h0M404.5,146.3h0M400.7,133.6h0M401.7,145.2h0M400.9,144.0h0M399.2,140.8h0M404.8,132.8h0M404.7,145.9h0M403.7,140.8h0M398.0,137.9h0M405.1,145.1h0M399.1,144.2h0M404.5,141.9h0M400.9,147.7h0M398.4,153.0h0M403.7,148.4h0M398.6,148.6h0M404.5,145.0h0M399.6,150.8h0M404.0,130.6h0M399.1,129.7h0M399.4,138.4h0M403.3,148.4h0M402.7,148.5h0M403.3,129.2h0M399.4,142.4h0M402.4,151.9h0M404.4,135.1h0M403.9,141.2h0M404.4,135.0h0M403.2,129.9h0M403.9,133.6h0M402.0,143.0h0M401.7,153.1h0M402.7,135.3h0M404.3,152.0h0M399.8,149.0h0M400.3,152.6h0M404.5,144.2h0M399.8,146.2h0M399.3,155.0h0M404.0,139.1h0M405.2,142.2h0M399.2,154.4h0M399.0,151.0h0M402.0,154.4h0M402.5,134.9h0M402.9,151.6h0M402.7,139.8h0M401.8,143.7h0M399.4,129.7h0M401.0,142.8h0M401.8,150.8h0M404.5,126.5h0" stroke="#d0a000" stroke-width="2.1" stroke-linecap="round" fill="none"/>
<line x1="422.72" y1="146.40" x2="422.72" y2="150.20" stroke="#ff6a00" stroke-width="1" />
<line x1="422.72" y1="152.30" x2="422.72" y2="155.00" stroke="#ff6a00" stroke-width="1" />
<line x1="420.62" y1="146.40" x2="424.82" y2="146.40" stroke="#ff6a00" stroke-width="1" />
<line x1="420.62" y1="154.70" x2="424.82" y2="154.70" stroke="#ff6a00" stroke-width="1" />
<rect x="416.37" y="150.70" width="12.70" height="1.10" stroke="#ff6a00" fill="none" stroke-width="1" />
<rect x="421.42" y="149.90" width="2.60" height="2.60" stroke="#ff6a00" fill="none" stroke-width="0.6" />
<line x1="420.62" y1="137.50" x2="424.82" y2="137.50" stroke="#ffd0b0" stroke-width="1" />
<line x1="421.52" y1="154.00" x2="423.92" y2="156.20" stroke="#ffd0b0" stroke-width="0.7" />
<line x1="421.52" y1="156.20" x2="423.92" y2="154.00" stroke="#ffd0b0" stroke-width="0.7" />
<path d="M434.7,150.9h0M440.5,148.0h0M436.5,152.4h0M437.5,154.6h0M433.2,149.4h0M436.3,150.5h0M440.1,147.5h0M433.9,144.4h0M437.2,152.4h0M438.0,146.1h0M434.9,146.2h0M437.5,149.7h0M437.8,139.6h0M437.6,144.8h0M440.0,146.5h0M439.9,147.5h0M435.2,148.5h0M437.7,142.6h0M438.3,148.2h0M438.8,148.1h0M435.3,148.5h0M438.6,142.0h0M437.6,150.8h0M434.9,145.8h0M433.9,152.1h0M438.4,147.6h0M435.2,144.9h0M439.2,143.3h0M439.6,145.3h0M436.6,140.2h0M434.5,148.2h0M435.2,138.3h0M437.1,146.8h0M437.9,142.2h0M433.6,144.6h0M436.2,151.9h0M436.1,140.9h0M436.6,150.0h0M437.5,146.1h0M436.5,152.5h0M437.8,154.3h0M435.5,154.7h0M438.7,148.6h0M436.7,150.0h0M437.5,149.5h0M437.8,148.7h0M439.9,151.0h0M439.4,153.8h0M433.1,146.4h0M438.4,150.1h0M437.0,154.5h0M437.8,152.9h0M434.8,146.0h0M436.3,145.6h0M436.1,145.5h0M436.1,147.7h0M440.0,147.4h0M435.1,145.7h0M436.4,150.8h0M433.3,151.9h0M435.9,141.0h0M435.0,153.2h0M436.2,140.5h0M435.0,154.3h0M435.6,144.0h0M435.7,153.3h0M436.5,149.8h0M437.3,137.9h0M437.9,149.9h0M436.6,149.6h0M436.4,141.2h0M436.9,151.4h0M438.0,150.6h0M435.6,145.0h0M439.5,143.2h0M438.5,153.7h0M438.6,154.4h0M434.0,150.2h0M434.6,149.7h0M437.7,147.8h0M439.7,151.9h0M436.6,139.3h0M439.3,149.6h0M437.6,150.0h0M434.7,139.4h0M439.3,142.5h0M440.0,150.2h0M435.9,144.3h0M439.2,152.2h0M435.1,144.0h0M438.0,144.7h0M437.9,146.9h0M436.0,152.3h0M439.7,145.0h0M434.0,146.7h0M434.4,147.6h0M437.1,137.7h0M438.5,152.7h0M433.2,147.4h0M437.6,155.0h0M435.3,154.0h0M436.9,154.8h0M436.8,151.6h0M438.6,146.1h0M436.4,154.9h0M439.0,151.9h0M435.4,152.7h0M438.7,139.5h0M435.7,151.0h0M434.3,146.1h0M435.4,150.0h0M440.2,151.1h0M438.0,144.0h0M435.5,153.2h0M434.8,154.2h0M438.3,152.0h0M438.5,147.2h0M434.2,153.3h0M435.8,152.9h0M439.2,146.3h0M437.4,140.5h0M440.3,147.3h0M437.7,149.4h0M435.1,142.9h0M436.9,144.0h0M438.0,154.0h0M439.2,154.8h0M435.2,145.6h0M433.9,149.0h0M439.4,146.3h0M437.8,140.1h0M434.9,142.3h0M436.6,146.6h0M439.3,140.6h0M436.3,145.7h0M437.1,149.9h0M433.7,150.1h0M440.8,145.0h0M435.9,144.1h0M437.2,150.5h0M435.7,142.1h0M440.2,152.4h0M436.2,150.8h0M438.0,146.2h0M439.4,147.9h0M439.5,145.9h0M436.8,151.0h0M438.6,142.6h0M438.4,150.2h0M435.6,144.7h0M436.8,141.8h0M437.2,144.4h0M437.3,146.2h0M438.1,152.7h0M436.2,151.0h0M438.6,141.1h0M439.6,144.1h0M434.1,148.3h0M438.8,147.0h0M434.1,145.0h0M435.8,150.3h0M437.9,138.3h0M434.3,140.9h0M440.4,147.3h0M435.3,142.6h0M438.5,154.8h0M437.4,149.8h0M437.0,139.3h0M440.2,152.1h0M435.7,151.2h0M440.6,148.2h0M438.8,148.5h0M436.8,144.1h0M436.6,148.2h0M439.4,148.1h0M433.3,150.2h0M435.3,140.8h0M435.6,145.6h0M437.6,139.0h0M439.2,141.6h0M438.2,144.6h0M433.9,145.3h0M439.8,148.2h0M440.4,151.4h0M439.3,145.8h0M435.7,142.1h0M438.4,153.9h0M433.9,147.3h0M437.4,147.6h0M438.0,143.5h0M437.0,139.3h0M435.9,154.5h0M437.1,154.0h0M437.8,148.4h0M436.4,145.5h0M435.3,152.8h0M434.3,145.0h0M439.0,154.8h0M440.2,147.1h0M434.0,147.3h0M434.5,153.2h0M437.2,147.6h0M439.3,146.4h0M437.5,148.3h0M440.5,147.0h0M435.6,151.5h0M436.3,140.4h0M434.3,151.1h0M439.1,145.5h0M435.3,141.5h0M434.7,144.8h0M439.9,151.5h0M435.1,154.4h0M435.5,149.5h0M439.6,146.0h0M435.5,143.1h0M435.8,138.1h0M438.9,153.7h0M439.0,142.9h0M435.7,146.2h0M438.2,144.5h0M437.5,141.2h0M439.0,148.7h0M437.6,142.2h0M433.9,144.9h0M437.9,143.1h0M435.0,142.8h0M439.5,149.1h0M434.6,142.4h0M434.2,148.0h0M436.8,152.1h0M439.2,151.4h0M436.2,140.0h0M436.0,146.1h0M434.9,143.4h0M437.8,140.6h0M435.3,149.5h0M435.4,147.4h0M434.1,141.4h0M434.8,144.7h0M434.2,146.9h0M434.0,152.9h0M434.5,144.7h0M439.4,146.1h0M436.9,146.3h0M440.1,149.8h0M437.3,148.9h0M436.7,145.9h0M437.3,151.2h0M438.4,148.7h0M434.7,153.0h0M435.0,146.2h0M437.9,152.4h0M438.0,150.5h0M436.9,147.9h0M436.3,148.0h0M438.8,143.7h0M434.1,151.3h0M433.7,149.5h0M438.1,149.8h0M438.5,141.9h0M435.4,145.2h0M440.6,149.2h0M435.7,142.8h0M434.8,149.1h0M438.0,150.3h0M437.4,149.2h0M433.4,153.0h0M433.6,144.4h0M435.0,154.8h0M435.6,149.6h0M432.8,145.5h0M437.9,155.2h0M437.9,144.7h0M437.2,143.3h0M435.0,147.0h0M434.9,143.4h0M439.1,154.0h0M436.4,145.7h0M435.2,149.5h0M436.5,152.3h0M437.2,148.4h0M440.1,147.9h0M437.0,151.9h0M435.1,144.1h0M434.7,154.4h0M438.9,141.6h0M438.5,141.2h0M438.3,147.9h0M434.5,148.5h0M438.9,154.0h0M436.8,151.4h0M438.3,152.8h0M433.2,146.5h0M436.9,142.5h0M439.0,144.3h0M438.6,141.9h0M438.4,140.8h0M436.3,147.4h0M435.7,155.1h0M438.2,138.6h0M440.0,146.1h0M439.9,153.3h0M437.0,148.3h0M440.0,146.8h0M433.1,151.2h0M439.9,146.7h0M434.5,147.2h0M435.4,154.8h0M436.3,150.6h0M438.1,148.2h0M434.8,145.7h0M434.3,145.5h0M439.4,146.7h0M437.4,145.8h0M436.4,151.4h0M438.4,142.0h0M437.6,153.9h0M440.2,148.6h0M436.0,150.1h0M433.9,148.2h0M434.9,155.0h0M437.8,143.7h0M436.0,140.0h0M433.4,147.0h0M437.0,143.4h0M437.7,149.1h0M440.2,149.0h0M435.2,146.0h0M436.0,140.5h0M440.2,145.0h0M438.2,149.8h0M433.9,148.0h0M435.8,149.7h0M434.3,151.9h0M438.4,152.4h0M438.2,149.0h0M436.6,146.7h0M433.1,148.7h0M436.9,146.2h0M434.9,150.9h0M436.9,147.4h0M434.6,149.1h0M433.5,146.0h0M439.0,143.2h0M437.5,143.6h0M438.1,138.9h0M437.9,145.9h0M434.4,154.3h0M440.4,153.3h0M435.8,139.2h0M433.3,152.8h0M435.8,142.2h0M433.4,147.9h0M436.0,149.0h0M438.3,144.1h0M436.9,143.6h0M436.7,149.8h0M440.5,146.8h0M436.7,154.3h0M440.4,144.7h0M438.4,149.0h0M436.3,143.4h0M438.8,153.8h0M434.6,146.3h0M435.3,142.3h0M439.9,151.4h0M435.7,146.2h0M436.6,154.0h0M438.2,145.5h0M440.1,150.3h0M437.2,146.6h0M440.6,148.8h0M438.5,145.4h0M437.9,145.0h0M437.7,151.7h0M434.9,144.3h0M439.8,144.6h0M434.8,147.8h0M440.0,146.3h0M438.1,141.3h0M435.7,151.5h0M435.6,137.9h0M438.0,139.4h0M438.1,147.7h0M438.5,154.6h0M435.1,140.6h0M434.3,146.1h0M434.5,147.1h0M436.9,145.1h0M438.2,141.4h0M435.9,153.2h0M433.8,147.4h0M436.7,154.1h0M436.6,137.6h0M438.5,154.1h0M439.7,143.8h0M437.0,145.2h0M435.0,149.5h0M434.5,146.6h0M433.1,151.0h0M433.2,150.5h0M434.3,151.9h0M434.9,151.6h0M436.0,145.4h0M438.6,143.3h0M438.9,143.4h0M439.6,144.5h0M437.9,151.9h0M439.7,143.9h0M438.6,138.9h0M435.0,148.3h0M435.8,145.6h0M439.0,139.9h0M440.9,145.5h0M436.1,139.9h0M434.9,150.3h0M439.1,152.1h0M433.3,147.9h0M440.5,150.3h0M434.6,150.6h0M438.1,139.6h0M437.7,148.2h0M436.6,141.0h0M439.0,143.8h0M434.9,151.6h0M438.4,151.0h0M434.8,146.6h0M438.0,139.9h0M437.7,150.9h0" stroke="#ff6a00" stroke-width="2.1" stroke-linecap="round" fill="none"/>
<rect x="545.40" y="87.00" width="4.24" height="1.50" stroke="#707070" fill="#fcc792" stroke-width="0.7" />
<rect x="549.64" y="75.40" width="4.24" height="13.10" stroke="#707070" fill="#fcc792" stroke-width="0.7" />
<rect x="553.88" y="39.00" width="4.24" height="49.50" stroke="#707070" fill="#fcc792" stroke-width="0.7" />
<rect x="558.12" y="29.10" width="4.24" height="59.40" stroke="#707070" fill="#fcc792" stroke-width="0.7" />
<rect x="562.36" y="48.40" width="4.24" height="40.10" stroke="#707070" fill="#fcc792" stroke-width="0.7" />
<rect x="566.60" y="76.90" width="4.24" height="11.60" stroke="#707070" fill="#fcc792" stroke-width="0.7" />
<rect x="570.84" y="82.10" width="4.24" height="6.40" stroke="#707070" fill="#fcc792" stroke-width="0.7" />
<rect x="575.08" y="85.20" width="4.24" height="3.30" stroke="#707070" fill="#fcc792" stroke-width="0.7" />
<rect x="579.32" y="86.80" width="4.24" height="1.70" stroke="#707070" fill="#fcc792" stroke-width="0.7" />
<rect x="583.56" y="87.20" width="4.24" height="1.30" stroke="#707070" fill="#fcc792" stroke-width="0.7" />
<polyline points="531.00,88.50 531.50,88.50 532.00,88.49 532.50,88.49 533.00,88.49 533.50,88.49 534.00,88.48 534.50,88.48 535.00,88.47 535.50,88.46 536.00,88.44 536.50,88.43 537.00,88.40 537.50,88.37 538.00,88.34 538.50,88.29 539.00,88.23 539.50,88.16 540.00,88.06 540.50,87.95 541.00,87.81 541.50,87.64 542.00,87.43 542.50,87.19 543.00,86.89 543.50,86.54 544.00,86.12 544.50,85.64 545.00,85.07 545.50,84.41 546.00,83.65 546.50,82.79 547.00,81.81 547.50,80.70 548.00,79.46 548.50,78.08 549.00,76.55 549.50,74.88 550.00,73.07 550.50,71.10 551.00,69.00 551.50,66.76 552.00,64.40 552.50,61.94 553.00,59.38 553.50,56.75 554.00,54.08 554.50,51.40 555.00,48.72 555.50,46.09 556.00,43.54 556.50,41.09 557.00,38.80 557.50,36.68 558.00,34.77 558.50,33.09 559.00,31.69 559.50,30.57 560.00,29.76 560.50,29.27 561.00,29.10 561.50,29.27 562.00,29.76 562.50,30.57 563.00,31.69 563.50,33.09 564.00,34.77 564.50,36.68 565.00,38.80 565.50,41.09 566.00,43.54 566.50,46.09 567.00,48.72 567.50,51.40 568.00,54.08 568.50,56.75 569.00,59.38 569.50,61.94 570.00,64.40 570.50,66.76 571.00,69.00 571.50,71.10 572.00,73.07 572.50,74.88 573.00,76.55 573.50,78.08 574.00,79.46 574.50,80.70 575.00,81.81 575.50,82.79 576.00,83.65 576.50,84.41 577.00,85.07 577.50,85.64 578.00,86.12 578.50,86.54 579.00,86.89 579.50,87.19 580.00,87.43 580.50,87.64 581.00,87.81 581.50,87.95 582.00,88.06 582.50,88.16 583.00,88.23 583.50,88.29 584.00,88.34 584.50,88.37 585.00,88.40 585.50,88.43 586.00,88.44 586.50,88.46 587.00,88.47 587.50,88.48 588.00,88.48 588.50,88.49 589.00,88.49 589.50,88.49 590.00,88.49 590.50,88.50 591.00,88.50" fill="none" stroke="#b3875f" stroke-width="1.0"/>
<path d="M490.80,48.38 V26.10 Q490.80,24.60 492.30,24.60 H498.50 Q500.00,24.60 500.00,26.10 V48.38 A7.9,7.9 0 1 1 490.80,48.38 Z" fill="#fff" stroke="#c4906f" stroke-width="0.8"/>
<rect x="492.95" y="33.00" width="4.90" height="21.80" stroke="none" fill="#ff0000" stroke-width="1" />
<circle cx="495.40" cy="56.00" r="4.60" fill="#ff0000" stroke="none" stroke-width="1" />
<line x1="490.80" y1="27.60" x2="493.40" y2="27.60" stroke="#c4906f" stroke-width="0.5" />
<line x1="490.80" y1="29.50" x2="493.40" y2="29.50" stroke="#c4906f" stroke-width="0.5" />
<line x1="490.80" y1="31.40" x2="493.40" y2="31.40" stroke="#c4906f" stroke-width="0.5" />
<line x1="490.80" y1="33.30" x2="493.40" y2="33.30" stroke="#c4906f" stroke-width="0.5" />
<line x1="490.80" y1="35.20" x2="493.40" y2="35.20" stroke="#c4906f" stroke-width="0.5" />
<text x="509.70" y="31.72" font-size="10.4" text-anchor="start" fill="#222" font-weight="normal" >343 K</text>
<line x1="483.40" y1="88.50" x2="483.40" y2="92.50" stroke="#333" stroke-width="1" />
<line x1="512.50" y1="88.50" x2="512.50" y2="90.80" stroke="#333" stroke-width="1" />
<line x1="541.60" y1="88.50" x2="541.60" y2="92.50" stroke="#333" stroke-width="1" />
<line x1="570.70" y1="88.50" x2="570.70" y2="90.80" stroke="#333" stroke-width="1" />
<line x1="599.80" y1="88.50" x2="599.80" y2="92.50" stroke="#333" stroke-width="1" />
<line x1="628.90" y1="88.50" x2="628.90" y2="90.80" stroke="#333" stroke-width="1" />
<line x1="658.00" y1="88.50" x2="658.00" y2="92.50" stroke="#333" stroke-width="1" />
<rect x="545.40" y="163.60" width="4.10" height="2.90" stroke="#707070" fill="#fcc792" stroke-width="0.7" />
<rect x="549.50" y="157.30" width="4.10" height="9.20" stroke="#707070" fill="#fcc792" stroke-width="0.7" />
<rect x="553.60" y="128.30" width="4.10" height="38.20" stroke="#707070" fill="#fcc792" stroke-width="0.7" />
<rect x="557.70" y="108.20" width="4.10" height="58.30" stroke="#707070" fill="#fcc792" stroke-width="0.7" />
<rect x="561.80" y="129.00" width="4.10" height="37.50" stroke="#707070" fill="#fcc792" stroke-width="0.7" />
<rect x="565.90" y="151.20" width="4.10" height="15.30" stroke="#707070" fill="#fcc792" stroke-width="0.7" />
<rect x="570.00" y="159.40" width="4.10" height="7.10" stroke="#707070" fill="#fcc792" stroke-width="0.7" />
<rect x="574.10" y="162.50" width="4.10" height="4.00" stroke="#707070" fill="#fcc792" stroke-width="0.7" />
<rect x="578.20" y="164.30" width="4.10" height="2.20" stroke="#707070" fill="#fcc792" stroke-width="0.7" />
<rect x="582.30" y="165.00" width="4.10" height="1.50" stroke="#707070" fill="#fcc792" stroke-width="0.7" />
<polyline points="530.30,166.50 530.80,166.50 531.30,166.50 531.80,166.50 532.30,166.50 532.80,166.49 533.30,166.49 533.80,166.49 534.30,166.48 534.80,166.48 535.30,166.47 535.80,166.46 536.30,166.45 536.80,166.43 537.30,166.41 537.80,166.38 538.30,166.34 538.80,166.29 539.30,166.23 539.80,166.16 540.30,166.06 540.80,165.94 541.30,165.79 541.80,165.61 542.30,165.38 542.80,165.11 543.30,164.79 543.80,164.40 544.30,163.94 544.80,163.40 545.30,162.76 545.80,162.02 546.30,161.17 546.80,160.20 547.30,159.09 547.80,157.84 548.30,156.45 548.80,154.90 549.30,153.19 549.80,151.32 550.30,149.30 550.80,147.13 551.30,144.81 551.80,142.37 552.30,139.81 552.80,137.16 553.30,134.44 553.80,131.69 554.30,128.93 554.80,126.20 555.30,123.53 555.80,120.97 556.30,118.54 556.80,116.30 557.30,114.27 557.80,112.48 558.30,110.98 558.80,109.78 559.30,108.91 559.80,108.38 560.30,108.20 560.80,108.38 561.30,108.91 561.80,109.78 562.30,110.98 562.80,112.48 563.30,114.27 563.80,116.30 564.30,118.54 564.80,120.97 565.30,123.53 565.80,126.20 566.30,128.93 566.80,131.69 567.30,134.44 567.80,137.16 568.30,139.81 568.80,142.37 569.30,144.81 569.80,147.13 570.30,149.30 570.80,151.32 571.30,153.19 571.80,154.90 572.30,156.45 572.80,157.84 573.30,159.09 573.80,160.20 574.30,161.17 574.80,162.02 575.30,162.76 575.80,163.40 576.30,163.94 576.80,164.40 577.30,164.79 577.80,165.11 578.30,165.38 578.80,165.61 579.30,165.79 579.80,165.94 580.30,166.06 580.80,166.16 581.30,166.23 581.80,166.29 582.30,166.34 582.80,166.38 583.30,166.41 583.80,166.43 584.30,166.45 584.80,166.46 585.30,166.47 585.80,166.48 586.30,166.48 586.80,166.49 587.30,166.49 587.80,166.49 588.30,166.50 588.80,166.50 589.30,166.50 589.80,166.50 590.30,166.50" fill="none" stroke="#b3875f" stroke-width="1.0"/>
<path d="M491.30,125.58 V103.50 Q491.30,102.00 492.80,102.00 H499.00 Q500.50,102.00 500.50,103.50 V125.58 A7.9,7.9 0 1 1 491.30,125.58 Z" fill="#fff" stroke="#c4906f" stroke-width="0.8"/>
<rect x="493.45" y="115.90" width="4.90" height="16.10" stroke="none" fill="#ff0000" stroke-width="1" />
<circle cx="495.90" cy="133.20" r="4.60" fill="#ff0000" stroke="none" stroke-width="1" />
<line x1="497.90" y1="105.00" x2="500.50" y2="105.00" stroke="#c4906f" stroke-width="0.5" />
<line x1="497.90" y1="106.90" x2="500.50" y2="106.90" stroke="#c4906f" stroke-width="0.5" />
<line x1="497.90" y1="108.80" x2="500.50" y2="108.80" stroke="#c4906f" stroke-width="0.5" />
<line x1="497.90" y1="110.70" x2="500.50" y2="110.70" stroke="#c4906f" stroke-width="0.5" />
<line x1="497.90" y1="112.60" x2="500.50" y2="112.60" stroke="#c4906f" stroke-width="0.5" />
<text x="509.70" y="110.72" font-size="10.4" text-anchor="start" fill="#222" font-weight="normal" >333 K</text>
<line x1="483.40" y1="166.50" x2="483.40" y2="170.50" stroke="#333" stroke-width="1" />
<line x1="512.50" y1="166.50" x2="512.50" y2="168.80" stroke="#333" stroke-width="1" />
<line x1="541.60" y1="166.50" x2="541.60" y2="170.50" stroke="#333" stroke-width="1" />
<line x1="570.70" y1="166.50" x2="570.70" y2="168.80" stroke="#333" stroke-width="1" />
<line x1="599.80" y1="166.50" x2="599.80" y2="170.50" stroke="#333" stroke-width="1" />
<line x1="628.90" y1="166.50" x2="628.90" y2="168.80" stroke="#333" stroke-width="1" />
<line x1="658.00" y1="166.50" x2="658.00" y2="170.50" stroke="#333" stroke-width="1" />
<rect x="545.40" y="240.60" width="4.10" height="2.90" stroke="#707070" fill="#fcc792" stroke-width="0.7" />
<rect x="549.50" y="232.40" width="4.10" height="11.10" stroke="#707070" fill="#fcc792" stroke-width="0.7" />
<rect x="553.60" y="200.20" width="4.10" height="43.30" stroke="#707070" fill="#fcc792" stroke-width="0.7" />
<rect x="557.70" y="183.20" width="4.10" height="60.30" stroke="#707070" fill="#fcc792" stroke-width="0.7" />
<rect x="561.80" y="205.60" width="4.10" height="37.90" stroke="#707070" fill="#fcc792" stroke-width="0.7" />
<rect x="565.90" y="231.30" width="4.10" height="12.20" stroke="#707070" fill="#fcc792" stroke-width="0.7" />
<rect x="570.00" y="238.40" width="4.10" height="5.10" stroke="#707070" fill="#fcc792" stroke-width="0.7" />
<rect x="574.10" y="240.20" width="4.10" height="3.30" stroke="#707070" fill="#fcc792" stroke-width="0.7" />
<rect x="578.20" y="242.00" width="4.10" height="1.50" stroke="#707070" fill="#fcc792" stroke-width="0.7" />
<rect x="582.30" y="242.70" width="4.10" height="0.80" stroke="#707070" fill="#fcc792" stroke-width="0.7" />
<polyline points="530.00,243.50 530.50,243.50 531.00,243.50 531.50,243.49 532.00,243.49 532.50,243.49 533.00,243.49 533.50,243.48 534.00,243.47 534.50,243.47 535.00,243.45 535.50,243.44 536.00,243.42 536.50,243.39 537.00,243.36 537.50,243.32 538.00,243.27 538.50,243.20 539.00,243.12 539.50,243.02 540.00,242.89 540.50,242.73 541.00,242.54 541.50,242.31 542.00,242.04 542.50,241.71 543.00,241.31 543.50,240.85 544.00,240.31 544.50,239.67 545.00,238.94 545.50,238.10 546.00,237.14 546.50,236.06 547.00,234.83 547.50,233.47 548.00,231.95 548.50,230.29 549.00,228.46 549.50,226.49 550.00,224.37 550.50,222.10 551.00,219.70 551.50,217.19 552.00,214.57 552.50,211.88 553.00,209.14 553.50,206.37 554.00,203.61 554.50,200.89 555.00,198.24 555.50,195.71 556.00,193.32 556.50,191.11 557.00,189.12 557.50,187.37 558.00,185.91 558.50,184.74 559.00,183.89 559.50,183.37 560.00,183.20 560.50,183.37 561.00,183.89 561.50,184.74 562.00,185.91 562.50,187.37 563.00,189.12 563.50,191.11 564.00,193.32 564.50,195.71 565.00,198.24 565.50,200.89 566.00,203.61 566.50,206.37 567.00,209.14 567.50,211.88 568.00,214.57 568.50,217.19 569.00,219.70 569.50,222.10 570.00,224.37 570.50,226.49 571.00,228.46 571.50,230.29 572.00,231.95 572.50,233.47 573.00,234.83 573.50,236.06 574.00,237.14 574.50,238.10 575.00,238.94 575.50,239.67 576.00,240.31 576.50,240.85 577.00,241.31 577.50,241.71 578.00,242.04 578.50,242.31 579.00,242.54 579.50,242.73 580.00,242.89 580.50,243.02 581.00,243.12 581.50,243.20 582.00,243.27 582.50,243.32 583.00,243.36 583.50,243.39 584.00,243.42 584.50,243.44 585.00,243.45 585.50,243.47 586.00,243.47 586.50,243.48 587.00,243.49 587.50,243.49 588.00,243.49 588.50,243.49 589.00,243.50 589.50,243.50 590.00,243.50" fill="none" stroke="#b3875f" stroke-width="1.0"/>
<path d="M490.50,207.58 V184.10 Q490.50,182.60 492.00,182.60 H498.20 Q499.70,182.60 499.70,184.10 V207.58 A7.9,7.9 0 1 1 490.50,207.58 Z" fill="#fff" stroke="#c4906f" stroke-width="0.8"/>
<rect x="492.65" y="202.70" width="4.90" height="11.30" stroke="none" fill="#ff0000" stroke-width="1" />
<circle cx="495.10" cy="215.20" r="4.60" fill="#ff0000" stroke="none" stroke-width="1" />
<line x1="490.50" y1="185.60" x2="493.10" y2="185.60" stroke="#c4906f" stroke-width="0.5" />
<line x1="490.50" y1="187.50" x2="493.10" y2="187.50" stroke="#c4906f" stroke-width="0.5" />
<line x1="490.50" y1="189.40" x2="493.10" y2="189.40" stroke="#c4906f" stroke-width="0.5" />
<line x1="490.50" y1="191.30" x2="493.10" y2="191.30" stroke="#c4906f" stroke-width="0.5" />
<line x1="490.50" y1="193.20" x2="493.10" y2="193.20" stroke="#c4906f" stroke-width="0.5" />
<text x="509.70" y="191.52" font-size="10.4" text-anchor="start" fill="#222" font-weight="normal" >313 K</text>
<line x1="483.40" y1="243.50" x2="483.40" y2="247.50" stroke="#333" stroke-width="1" />
<line x1="512.50" y1="243.50" x2="512.50" y2="245.80" stroke="#333" stroke-width="1" />
<line x1="541.60" y1="243.50" x2="541.60" y2="247.50" stroke="#333" stroke-width="1" />
<line x1="570.70" y1="243.50" x2="570.70" y2="245.80" stroke="#333" stroke-width="1" />
<line x1="599.80" y1="243.50" x2="599.80" y2="247.50" stroke="#333" stroke-width="1" />
<line x1="628.90" y1="243.50" x2="628.90" y2="245.80" stroke="#333" stroke-width="1" />
<line x1="658.00" y1="243.50" x2="658.00" y2="247.50" stroke="#333" stroke-width="1" />
<rect x="541.20" y="320.60" width="4.24" height="1.90" stroke="#707070" fill="#fcc792" stroke-width="0.7" />
<rect x="545.44" y="318.20" width="4.24" height="4.30" stroke="#707070" fill="#fcc792" stroke-width="0.7" />
<rect x="549.68" y="293.50" width="4.24" height="29.00" stroke="#707070" fill="#fcc792" stroke-width="0.7" />
<rect x="553.92" y="264.20" width="4.24" height="58.30" stroke="#707070" fill="#fcc792" stroke-width="0.7" />
<rect x="558.16" y="289.20" width="4.24" height="33.30" stroke="#707070" fill="#fcc792" stroke-width="0.7" />
<rect x="562.40" y="307.30" width="4.24" height="15.20" stroke="#707070" fill="#fcc792" stroke-width="0.7" />
<rect x="566.64" y="316.80" width="4.24" height="5.70" stroke="#707070" fill="#fcc792" stroke-width="0.7" />
<rect x="570.88" y="320.50" width="4.24" height="2.00" stroke="#707070" fill="#fcc792" stroke-width="0.7" />
<rect x="575.12" y="321.20" width="4.24" height="1.30" stroke="#707070" fill="#fcc792" stroke-width="0.7" />
<polyline points="527.50,322.49 528.00,322.49 528.50,322.49 529.00,322.48 529.50,322.48 530.00,322.47 530.50,322.46 531.00,322.45 531.50,322.43 532.00,322.41 532.50,322.38 533.00,322.35 533.50,322.31 534.00,322.26 534.50,322.19 535.00,322.12 535.50,322.02 536.00,321.91 536.50,321.77 537.00,321.60 537.50,321.40 538.00,321.17 538.50,320.88 539.00,320.55 539.50,320.17 540.00,319.72 540.50,319.20 541.00,318.60 541.50,317.92 542.00,317.15 542.50,316.27 543.00,315.29 543.50,314.20 544.00,312.99 544.50,311.65 545.00,310.19 545.50,308.60 546.00,306.88 546.50,305.03 547.00,303.07 547.50,300.99 548.00,298.80 548.50,296.53 549.00,294.17 549.50,291.76 550.00,289.30 550.50,286.83 551.00,284.36 551.50,281.92 552.00,279.53 552.50,277.24 553.00,275.05 553.50,273.01 554.00,271.14 554.50,269.45 555.00,267.99 555.50,266.76 556.00,265.78 556.50,265.07 557.00,264.64 557.50,264.50 558.00,264.64 558.50,265.07 559.00,265.78 559.50,266.76 560.00,267.99 560.50,269.45 561.00,271.14 561.50,273.01 562.00,275.05 562.50,277.24 563.00,279.53 563.50,281.92 564.00,284.36 564.50,286.83 565.00,289.30 565.50,291.76 566.00,294.17 566.50,296.53 567.00,298.80 567.50,300.99 568.00,303.07 568.50,305.03 569.00,306.88 569.50,308.60 570.00,310.19 570.50,311.65 571.00,312.99 571.50,314.20 572.00,315.29 572.50,316.27 573.00,317.15 573.50,317.92 574.00,318.60 574.50,319.20 575.00,319.72 575.50,320.17 576.00,320.55 576.50,320.88 577.00,321.17 577.50,321.40 578.00,321.60 578.50,321.77 579.00,321.91 579.50,322.02 580.00,322.12 580.50,322.19 581.00,322.26 581.50,322.31 582.00,322.35 582.50,322.38 583.00,322.41 583.50,322.43 584.00,322.45 584.50,322.46 585.00,322.47 585.50,322.48 586.00,322.48 586.50,322.49 587.00,322.49 587.50,322.49" fill="none" stroke="#b3875f" stroke-width="1.0"/>
<path d="M490.50,280.38 V257.50 Q490.50,256.00 492.00,256.00 H498.20 Q499.70,256.00 499.70,257.50 V280.38 A7.9,7.9 0 1 1 490.50,280.38 Z" fill="#fff" stroke="#c4906f" stroke-width="0.8"/>
<rect x="492.65" y="277.10" width="4.90" height="9.70" stroke="none" fill="#3d6ecb" stroke-width="1" />
<circle cx="495.10" cy="288.00" r="4.60" fill="#3d6ecb" stroke="none" stroke-width="1" />
<line x1="490.50" y1="259.00" x2="493.10" y2="259.00" stroke="#c4906f" stroke-width="0.5" />
<line x1="490.50" y1="260.90" x2="493.10" y2="260.90" stroke="#c4906f" stroke-width="0.5" />
<line x1="490.50" y1="262.80" x2="493.10" y2="262.80" stroke="#c4906f" stroke-width="0.5" />
<line x1="490.50" y1="264.70" x2="493.10" y2="264.70" stroke="#c4906f" stroke-width="0.5" />
<line x1="490.50" y1="266.60" x2="493.10" y2="266.60" stroke="#c4906f" stroke-width="0.5" />
<text x="509.70" y="268.12" font-size="10.4" text-anchor="start" fill="#222" font-weight="normal" >RT</text>
<line x1="483.40" y1="322.50" x2="483.40" y2="326.50" stroke="#333" stroke-width="1" />
<line x1="512.50" y1="322.50" x2="512.50" y2="324.80" stroke="#333" stroke-width="1" />
<line x1="541.60" y1="322.50" x2="541.60" y2="326.50" stroke="#333" stroke-width="1" />
<line x1="570.70" y1="322.50" x2="570.70" y2="324.80" stroke="#333" stroke-width="1" />
<line x1="599.80" y1="322.50" x2="599.80" y2="326.50" stroke="#333" stroke-width="1" />
<line x1="628.90" y1="322.50" x2="628.90" y2="324.80" stroke="#333" stroke-width="1" />
<line x1="658.00" y1="322.50" x2="658.00" y2="326.50" stroke="#333" stroke-width="1" />
<line x1="483.40" y1="10.50" x2="483.40" y2="322.50" stroke="#3a3a3a" stroke-width="1.1" />
<line x1="658.00" y1="10.50" x2="658.00" y2="322.50" stroke="#555" stroke-width="1.1" />
<line x1="483.40" y1="10.50" x2="658.00" y2="10.50" stroke="#1a1a1a" stroke-width="1.1" />
<line x1="483.40" y1="88.50" x2="658.00" y2="88.50" stroke="#1a1a1a" stroke-width="1.1" />
<line x1="483.40" y1="166.50" x2="658.00" y2="166.50" stroke="#1a1a1a" stroke-width="1.1" />
<line x1="483.40" y1="243.50" x2="658.00" y2="243.50" stroke="#1a1a1a" stroke-width="1.1" />
<line x1="483.40" y1="322.50" x2="658.00" y2="322.50" stroke="#1a1a1a" stroke-width="1.1" />
<text x="483.40" y="336.09" font-size="9.2" text-anchor="middle" fill="#222" font-weight="normal" >-10</text>
<text x="541.60" y="336.09" font-size="9.2" text-anchor="middle" fill="#222" font-weight="normal" >0</text>
<text x="599.80" y="336.09" font-size="9.2" text-anchor="middle" fill="#222" font-weight="normal" >10</text>
<text x="658.00" y="336.09" font-size="9.2" text-anchor="middle" fill="#222" font-weight="normal" >20</text>
<text x="567.70" y="346.59" font-size="10.6" text-anchor="middle" fill="#222" font-weight="normal" >Rise time (μs)</text>
<text x="0" y="3.83" font-size="10.7" text-anchor="middle" fill="#222" font-weight="normal" transform="translate(464.90,133.50) rotate(-90)" >Counts (arb. units)</text>
<text x="655.80" y="21.89" font-size="10.3" text-anchor="end" fill="#222" font-weight="normal" >1,000 V· cm<tspan dy="-3.91" font-size="6.70">-1</tspan><tspan dy="3.91"></tspan></text>
<line x1="44.50" y1="182.50" x2="44.50" y2="325.50" stroke="#333" stroke-width="1.1" />
<line x1="223.50" y1="182.50" x2="223.50" y2="325.50" stroke="#333" stroke-width="1.1" />
<line x1="44.50" y1="182.50" x2="223.50" y2="182.50" stroke="#333" stroke-width="1.1" />
<line x1="44.50" y1="253.50" x2="223.50" y2="253.50" stroke="#333" stroke-width="1.1" />
<line x1="44.50" y1="325.50" x2="223.50" y2="325.50" stroke="#333" stroke-width="1.1" />
<line x1="40.50" y1="253.50" x2="44.50" y2="253.50" stroke="#333" stroke-width="1" />
<text x="38.90" y="256.19" font-size="9.2" text-anchor="end" fill="#222" font-weight="normal" >0</text>
<line x1="42.30" y1="241.66" x2="44.50" y2="241.66" stroke="#333" stroke-width="1" />
<line x1="40.50" y1="229.83" x2="44.50" y2="229.83" stroke="#333" stroke-width="1" />
<text x="38.90" y="232.52" font-size="9.2" text-anchor="end" fill="#222" font-weight="normal" >1</text>
<line x1="42.30" y1="218.00" x2="44.50" y2="218.00" stroke="#333" stroke-width="1" />
<line x1="40.50" y1="206.16" x2="44.50" y2="206.16" stroke="#333" stroke-width="1" />
<text x="38.90" y="208.85" font-size="9.2" text-anchor="end" fill="#222" font-weight="normal" >2</text>
<line x1="42.30" y1="194.32" x2="44.50" y2="194.32" stroke="#333" stroke-width="1" />
<line x1="40.50" y1="182.49" x2="44.50" y2="182.49" stroke="#333" stroke-width="1" />
<text x="38.90" y="185.18" font-size="9.2" text-anchor="end" fill="#222" font-weight="normal" >3</text>
<line x1="40.50" y1="325.50" x2="44.50" y2="325.50" stroke="#333" stroke-width="1" />
<text x="38.90" y="328.19" font-size="9.2" text-anchor="end" fill="#222" font-weight="normal" >0</text>
<line x1="42.30" y1="316.30" x2="44.50" y2="316.30" stroke="#333" stroke-width="1" />
<line x1="40.50" y1="307.10" x2="44.50" y2="307.10" stroke="#333" stroke-width="1" />
<text x="38.90" y="309.79" font-size="9.2" text-anchor="end" fill="#222" font-weight="normal" >1</text>
<line x1="42.30" y1="297.90" x2="44.50" y2="297.90" stroke="#333" stroke-width="1" />
<line x1="40.50" y1="288.70" x2="44.50" y2="288.70" stroke="#333" stroke-width="1" />
<text x="38.90" y="291.39" font-size="9.2" text-anchor="end" fill="#222" font-weight="normal" >2</text>
<line x1="42.30" y1="279.50" x2="44.50" y2="279.50" stroke="#333" stroke-width="1" />
<line x1="40.50" y1="270.30" x2="44.50" y2="270.30" stroke="#333" stroke-width="1" />
<text x="38.90" y="272.99" font-size="9.2" text-anchor="end" fill="#222" font-weight="normal" >3</text>
<line x1="42.30" y1="261.10" x2="44.50" y2="261.10" stroke="#333" stroke-width="1" />
<line x1="44.50" y1="325.50" x2="44.50" y2="329.50" stroke="#333" stroke-width="1" />
<line x1="44.50" y1="253.50" x2="44.50" y2="257.00" stroke="#333" stroke-width="1" />
<text x="44.50" y="337.89" font-size="9.2" text-anchor="middle" fill="#222" font-weight="normal" >0</text>
<line x1="58.30" y1="325.50" x2="58.30" y2="327.70" stroke="#333" stroke-width="1" />
<line x1="58.30" y1="253.50" x2="58.30" y2="255.70" stroke="#333" stroke-width="1" />
<line x1="72.10" y1="325.50" x2="72.10" y2="329.50" stroke="#333" stroke-width="1" />
<line x1="72.10" y1="253.50" x2="72.10" y2="257.00" stroke="#333" stroke-width="1" />
<text x="72.10" y="337.89" font-size="9.2" text-anchor="middle" fill="#222" font-weight="normal" >100</text>
<line x1="85.90" y1="325.50" x2="85.90" y2="327.70" stroke="#333" stroke-width="1" />
<line x1="85.90" y1="253.50" x2="85.90" y2="255.70" stroke="#333" stroke-width="1" />
<line x1="99.70" y1="325.50" x2="99.70" y2="329.50" stroke="#333" stroke-width="1" />
<line x1="99.70" y1="253.50" x2="99.70" y2="257.00" stroke="#333" stroke-width="1" />
<text x="99.70" y="337.89" font-size="9.2" text-anchor="middle" fill="#222" font-weight="normal" >200</text>
<line x1="113.50" y1="325.50" x2="113.50" y2="327.70" stroke="#333" stroke-width="1" />
<line x1="113.50" y1="253.50" x2="113.50" y2="255.70" stroke="#333" stroke-width="1" />
<line x1="127.30" y1="325.50" x2="127.30" y2="329.50" stroke="#333" stroke-width="1" />
<line x1="127.30" y1="253.50" x2="127.30" y2="257.00" stroke="#333" stroke-width="1" />
<text x="127.30" y="337.89" font-size="9.2" text-anchor="middle" fill="#222" font-weight="normal" >300</text>
<line x1="141.10" y1="325.50" x2="141.10" y2="327.70" stroke="#333" stroke-width="1" />
<line x1="141.10" y1="253.50" x2="141.10" y2="255.70" stroke="#333" stroke-width="1" />
<line x1="154.90" y1="325.50" x2="154.90" y2="329.50" stroke="#333" stroke-width="1" />
<line x1="154.90" y1="253.50" x2="154.90" y2="257.00" stroke="#333" stroke-width="1" />
<text x="154.90" y="337.89" font-size="9.2" text-anchor="middle" fill="#222" font-weight="normal" >400</text>
<line x1="168.70" y1="325.50" x2="168.70" y2="327.70" stroke="#333" stroke-width="1" />
<line x1="168.70" y1="253.50" x2="168.70" y2="255.70" stroke="#333" stroke-width="1" />
<line x1="182.50" y1="325.50" x2="182.50" y2="329.50" stroke="#333" stroke-width="1" />
<line x1="182.50" y1="253.50" x2="182.50" y2="257.00" stroke="#333" stroke-width="1" />
<text x="182.50" y="337.89" font-size="9.2" text-anchor="middle" fill="#222" font-weight="normal" >500</text>
<line x1="196.30" y1="325.50" x2="196.30" y2="327.70" stroke="#333" stroke-width="1" />
<line x1="196.30" y1="253.50" x2="196.30" y2="255.70" stroke="#333" stroke-width="1" />
<line x1="210.10" y1="325.50" x2="210.10" y2="329.50" stroke="#333" stroke-width="1" />
<line x1="210.10" y1="253.50" x2="210.10" y2="257.00" stroke="#333" stroke-width="1" />
<text x="210.10" y="337.89" font-size="9.2" text-anchor="middle" fill="#222" font-weight="normal" >600</text>
<line x1="223.90" y1="325.50" x2="223.90" y2="327.70" stroke="#333" stroke-width="1" />
<line x1="223.90" y1="253.50" x2="223.90" y2="255.70" stroke="#333" stroke-width="1" />
<line x1="65.20" y1="241.60" x2="207.34" y2="191.00" stroke="#2878bd" stroke-width="1" />
<rect x="65.71" y="239.30" width="3.40" height="3.40" stroke="none" fill="#2878bd" stroke-width="1" />
<rect x="88.62" y="231.80" width="3.40" height="3.40" stroke="none" fill="#2878bd" stroke-width="1" />
<rect x="111.80" y="222.10" width="3.40" height="3.40" stroke="none" fill="#2878bd" stroke-width="1" />
<rect x="157.62" y="206.90" width="3.40" height="3.40" stroke="none" fill="#2878bd" stroke-width="1" />
<rect x="203.71" y="190.00" width="3.40" height="3.40" stroke="none" fill="#2878bd" stroke-width="1" />
<line x1="205.41" y1="188.00" x2="205.41" y2="194.60" stroke="#2878bd" stroke-width="0.9" />
<line x1="203.71" y1="188.00" x2="207.11" y2="188.00" stroke="#2878bd" stroke-width="0.9" />
<line x1="203.71" y1="194.60" x2="207.11" y2="194.60" stroke="#2878bd" stroke-width="0.9" />
<line x1="159.32" y1="206.30" x2="159.32" y2="211.30" stroke="#2878bd" stroke-width="0.9" />
<line x1="157.62" y1="206.30" x2="161.02" y2="206.30" stroke="#2878bd" stroke-width="0.9" />
<line x1="157.62" y1="211.30" x2="161.02" y2="211.30" stroke="#2878bd" stroke-width="0.9" />
<line x1="113.50" y1="222.30" x2="113.50" y2="225.30" stroke="#2878bd" stroke-width="0.9" />
<line x1="111.80" y1="222.30" x2="115.20" y2="222.30" stroke="#2878bd" stroke-width="0.9" />
<line x1="111.80" y1="225.30" x2="115.20" y2="225.30" stroke="#2878bd" stroke-width="0.9" />
<line x1="65.20" y1="315.30" x2="207.34" y2="266.50" stroke="#ff8a1e" stroke-width="1" />
<circle cx="67.41" cy="314.50" r="2.00" fill="#ff8a1e" stroke="none" stroke-width="1" />
<circle cx="90.32" cy="306.00" r="2.00" fill="#ff8a1e" stroke="none" stroke-width="1" />
<circle cx="113.50" cy="299.30" r="2.00" fill="#ff8a1e" stroke="none" stroke-width="1" />
<circle cx="136.41" cy="291.30" r="2.00" fill="#ff8a1e" stroke="none" stroke-width="1" />
<circle cx="159.32" cy="285.20" r="2.00" fill="#ff8a1e" stroke="none" stroke-width="1" />
<circle cx="182.50" cy="276.00" r="2.00" fill="#ff8a1e" stroke="none" stroke-width="1" />
<circle cx="205.41" cy="267.50" r="2.00" fill="#ff8a1e" stroke="none" stroke-width="1" />
<line x1="205.41" y1="264.20" x2="205.41" y2="270.50" stroke="#ff8a1e" stroke-width="0.9" />
<line x1="203.71" y1="264.20" x2="207.11" y2="264.20" stroke="#ff8a1e" stroke-width="0.9" />
<line x1="203.71" y1="270.50" x2="207.11" y2="270.50" stroke="#ff8a1e" stroke-width="0.9" />
<line x1="182.50" y1="273.40" x2="182.50" y2="278.60" stroke="#ff8a1e" stroke-width="0.9" />
<line x1="180.80" y1="273.40" x2="184.20" y2="273.40" stroke="#ff8a1e" stroke-width="0.9" />
<line x1="180.80" y1="278.60" x2="184.20" y2="278.60" stroke="#ff8a1e" stroke-width="0.9" />
<line x1="159.32" y1="283.20" x2="159.32" y2="287.40" stroke="#ff8a1e" stroke-width="0.9" />
<line x1="157.62" y1="283.20" x2="161.02" y2="283.20" stroke="#ff8a1e" stroke-width="0.9" />
<line x1="157.62" y1="287.40" x2="161.02" y2="287.40" stroke="#ff8a1e" stroke-width="0.9" />
<line x1="136.41" y1="289.60" x2="136.41" y2="293.20" stroke="#ff8a1e" stroke-width="0.9" />
<line x1="134.71" y1="289.60" x2="138.11" y2="289.60" stroke="#ff8a1e" stroke-width="0.9" />
<line x1="134.71" y1="293.20" x2="138.11" y2="293.20" stroke="#ff8a1e" stroke-width="0.9" />
<rect x="61.30" y="189.30" width="3.40" height="3.40" stroke="none" fill="#2878bd" stroke-width="1" />
<text x="74.80" y="195.07" font-size="10.8" text-anchor="start" fill="#222" font-weight="normal" >Air</text>
<circle cx="63.00" cy="266.00" r="2.00" fill="#ff8a1e" stroke="none" stroke-width="1" />
<text x="74.80" y="270.07" font-size="10.8" text-anchor="start" fill="#222" font-weight="normal" >Vacuum</text>
<text x="217.50" y="244.76" font-size="9.95" text-anchor="end" fill="#222" font-weight="normal" ><tspan font-style="italic">μ</tspan><tspan dy="2.4" font-size="6.6">h</tspan><tspan dy="-2.4">=42(+/-0.75) cm</tspan><tspan dy="-3.6" font-size="6.6">2</tspan><tspan dy="3.6">·(V·s)</tspan><tspan dy="-3.8" font-size="6.3">-1</tspan></text>
<text x="217.50" y="319.36" font-size="9.95" text-anchor="end" fill="#222" font-weight="normal" ><tspan font-style="italic">μ</tspan><tspan dy="2.4" font-size="6.6">h</tspan><tspan dy="-2.4">=50(+/-1.09) cm</tspan><tspan dy="-3.6" font-size="6.6">2</tspan><tspan dy="3.6">·(V·s)</tspan><tspan dy="-3.8" font-size="6.3">-1</tspan></text>
<text x="0" y="3.62" font-size="10.1" text-anchor="middle" fill="#222" font-weight="normal" transform="translate(24.60,257.30) rotate(-90)" >Drift velocity (×10<tspan dy="-3.84" font-size="6.57">4</tspan><tspan dy="3.84"> cm·s</tspan><tspan dy="-3.84" font-size="6.57">-1</tspan><tspan dy="3.84">)</tspan></text>
<text x="133.80" y="352.22" font-size="10.1" text-anchor="middle" fill="#222" font-weight="normal" >Electrical field (V·cm<tspan dy="-3.84" font-size="6.57">-1</tspan><tspan dy="3.84">)</tspan></text>
<rect x="268.50" y="180.50" width="180.00" height="144.50" stroke="#333" fill="none" stroke-width="1.1" />
<line x1="264.50" y1="325.00" x2="268.50" y2="325.00" stroke="#333" stroke-width="1" />
<text x="263.00" y="327.33" font-size="9.3" text-anchor="end" fill="#222" font-weight="normal" >0</text>
<line x1="266.30" y1="304.31" x2="268.50" y2="304.31" stroke="#333" stroke-width="1" />
<line x1="264.50" y1="283.63" x2="268.50" y2="283.63" stroke="#333" stroke-width="1" />
<text x="263.00" y="285.96" font-size="9.3" text-anchor="end" fill="#222" font-weight="normal" >1,000</text>
<line x1="266.30" y1="262.94" x2="268.50" y2="262.94" stroke="#333" stroke-width="1" />
<line x1="264.50" y1="242.26" x2="268.50" y2="242.26" stroke="#333" stroke-width="1" />
<text x="263.00" y="244.59" font-size="9.3" text-anchor="end" fill="#222" font-weight="normal" >2,000</text>
<line x1="266.30" y1="221.57" x2="268.50" y2="221.57" stroke="#333" stroke-width="1" />
<line x1="264.50" y1="200.89" x2="268.50" y2="200.89" stroke="#333" stroke-width="1" />
<text x="263.00" y="203.22" font-size="9.3" text-anchor="end" fill="#222" font-weight="normal" >3,000</text>
<line x1="266.30" y1="180.21" x2="268.50" y2="180.21" stroke="#333" stroke-width="1" />
<line x1="268.50" y1="325.00" x2="268.50" y2="329.00" stroke="#333" stroke-width="1" />
<text x="268.50" y="337.79" font-size="9.2" text-anchor="middle" fill="#222" font-weight="normal" >290</text>
<line x1="284.81" y1="325.00" x2="284.81" y2="327.20" stroke="#333" stroke-width="1" />
<line x1="301.13" y1="325.00" x2="301.13" y2="329.00" stroke="#333" stroke-width="1" />
<text x="301.13" y="337.79" font-size="9.2" text-anchor="middle" fill="#222" font-weight="normal" >300</text>
<line x1="317.44" y1="325.00" x2="317.44" y2="327.20" stroke="#333" stroke-width="1" />
<line x1="333.76" y1="325.00" x2="333.76" y2="329.00" stroke="#333" stroke-width="1" />
<text x="333.76" y="337.79" font-size="9.2" text-anchor="middle" fill="#222" font-weight="normal" >310</text>
<line x1="350.07" y1="325.00" x2="350.07" y2="327.20" stroke="#333" stroke-width="1" />
<line x1="366.39" y1="325.00" x2="366.39" y2="329.00" stroke="#333" stroke-width="1" />
<text x="366.39" y="337.79" font-size="9.2" text-anchor="middle" fill="#222" font-weight="normal" >320</text>
<line x1="382.70" y1="325.00" x2="382.70" y2="327.20" stroke="#333" stroke-width="1" />
<line x1="399.02" y1="325.00" x2="399.02" y2="329.00" stroke="#333" stroke-width="1" />
<text x="399.02" y="337.79" font-size="9.2" text-anchor="middle" fill="#222" font-weight="normal" >330</text>
<line x1="415.34" y1="325.00" x2="415.34" y2="327.20" stroke="#333" stroke-width="1" />
<line x1="431.65" y1="325.00" x2="431.65" y2="329.00" stroke="#333" stroke-width="1" />
<text x="431.65" y="337.79" font-size="9.2" text-anchor="middle" fill="#222" font-weight="normal" >340</text>
<line x1="447.97" y1="325.00" x2="447.97" y2="327.20" stroke="#333" stroke-width="1" />
<polyline points="278.29,210.00 310.92,212.60 343.55,211.40 376.18,210.50 408.81,212.70 441.44,215.80" fill="none" stroke="#4b4bf0" stroke-width="0.8"/>
<rect x="276.69" y="208.40" width="3.20" height="3.20" stroke="#4b4bf0" fill="#c8c8ff" stroke-width="1.1" />
<line x1="278.29" y1="207.20" x2="278.29" y2="212.80" stroke="#4b4bf0" stroke-width="0.9" />
<line x1="276.79" y1="207.20" x2="279.79" y2="207.20" stroke="#4b4bf0" stroke-width="0.8" />
<line x1="276.79" y1="212.80" x2="279.79" y2="212.80" stroke="#4b4bf0" stroke-width="0.8" />
<rect x="309.32" y="211.00" width="3.20" height="3.20" stroke="#4b4bf0" fill="#c8c8ff" stroke-width="1.1" />
<line x1="310.92" y1="209.80" x2="310.92" y2="215.40" stroke="#4b4bf0" stroke-width="0.9" />
<line x1="309.42" y1="209.80" x2="312.42" y2="209.80" stroke="#4b4bf0" stroke-width="0.8" />
<line x1="309.42" y1="215.40" x2="312.42" y2="215.40" stroke="#4b4bf0" stroke-width="0.8" />
<rect x="341.95" y="209.80" width="3.20" height="3.20" stroke="#4b4bf0" fill="#c8c8ff" stroke-width="1.1" />
<line x1="343.55" y1="208.60" x2="343.55" y2="214.20" stroke="#4b4bf0" stroke-width="0.9" />
<line x1="342.05" y1="208.60" x2="345.05" y2="208.60" stroke="#4b4bf0" stroke-width="0.8" />
<line x1="342.05" y1="214.20" x2="345.05" y2="214.20" stroke="#4b4bf0" stroke-width="0.8" />
<rect x="374.58" y="208.90" width="3.20" height="3.20" stroke="#4b4bf0" fill="#c8c8ff" stroke-width="1.1" />
<line x1="376.18" y1="207.70" x2="376.18" y2="213.30" stroke="#4b4bf0" stroke-width="0.9" />
<line x1="374.68" y1="207.70" x2="377.68" y2="207.70" stroke="#4b4bf0" stroke-width="0.8" />
<line x1="374.68" y1="213.30" x2="377.68" y2="213.30" stroke="#4b4bf0" stroke-width="0.8" />
<rect x="407.21" y="211.10" width="3.20" height="3.20" stroke="#4b4bf0" fill="#c8c8ff" stroke-width="1.1" />
<line x1="408.81" y1="209.90" x2="408.81" y2="215.50" stroke="#4b4bf0" stroke-width="0.9" />
<line x1="407.31" y1="209.90" x2="410.31" y2="209.90" stroke="#4b4bf0" stroke-width="0.8" />
<line x1="407.31" y1="215.50" x2="410.31" y2="215.50" stroke="#4b4bf0" stroke-width="0.8" />
<rect x="439.84" y="214.20" width="3.20" height="3.20" stroke="#4b4bf0" fill="#c8c8ff" stroke-width="1.1" />
<line x1="441.44" y1="213.00" x2="441.44" y2="218.60" stroke="#4b4bf0" stroke-width="0.9" />
<line x1="439.94" y1="213.00" x2="442.94" y2="213.00" stroke="#4b4bf0" stroke-width="0.8" />
<line x1="439.94" y1="218.60" x2="442.94" y2="218.60" stroke="#4b4bf0" stroke-width="0.8" />
<text x="0" y="3.79" font-size="10.6" text-anchor="middle" fill="#222" font-weight="normal" transform="translate(232.80,253.00) rotate(-90)" >Channel number</text>
<text x="433.40" y="305.19" font-size="10.3" text-anchor="end" fill="#222" font-weight="normal" >1,000 V· cm<tspan dy="-3.91" font-size="6.70">-1</tspan><tspan dy="3.91"></tspan></text>
<text x="358.80" y="353.90" font-size="10.9" text-anchor="middle" fill="#222" font-weight="normal" >Temperature (K)</text>
<line x1="64.00" y1="361.50" x2="644.50" y2="361.50" stroke="#444" stroke-width="1.2" />
<line x1="64.00" y1="531.50" x2="644.50" y2="531.50" stroke="#222" stroke-width="1.3" />
<line x1="64.00" y1="361.50" x2="64.00" y2="531.50" stroke="#8c8c8c" stroke-width="1.3" />
<line x1="644.50" y1="361.50" x2="644.50" y2="531.50" stroke="#f03a3a" stroke-width="1.3" />
<line x1="56.60" y1="531.50" x2="64.00" y2="531.50" stroke="#8c8c8c" stroke-width="1.1" />
<text x="55.60" y="534.43" font-size="9.3" text-anchor="end" fill="#222" font-weight="normal" >2,000</text>
<line x1="59.80" y1="514.58" x2="64.00" y2="514.58" stroke="#8c8c8c" stroke-width="1.1" />
<line x1="56.60" y1="497.66" x2="64.00" y2="497.66" stroke="#8c8c8c" stroke-width="1.1" />
<text x="55.60" y="500.93" font-size="9.3" text-anchor="end" fill="#222" font-weight="normal" >2,100</text>
<line x1="59.80" y1="480.74" x2="64.00" y2="480.74" stroke="#8c8c8c" stroke-width="1.1" />
<line x1="56.60" y1="463.82" x2="64.00" y2="463.82" stroke="#8c8c8c" stroke-width="1.1" />
<text x="55.60" y="467.43" font-size="9.3" text-anchor="end" fill="#222" font-weight="normal" >2,200</text>
<line x1="59.80" y1="446.90" x2="64.00" y2="446.90" stroke="#8c8c8c" stroke-width="1.1" />
<line x1="56.60" y1="429.98" x2="64.00" y2="429.98" stroke="#8c8c8c" stroke-width="1.1" />
<text x="55.60" y="433.93" font-size="9.3" text-anchor="end" fill="#222" font-weight="normal" >2,300</text>
<line x1="59.80" y1="413.06" x2="64.00" y2="413.06" stroke="#8c8c8c" stroke-width="1.1" />
<line x1="56.60" y1="396.14" x2="64.00" y2="396.14" stroke="#8c8c8c" stroke-width="1.1" />
<text x="55.60" y="400.43" font-size="9.3" text-anchor="end" fill="#222" font-weight="normal" >2,400</text>
<line x1="59.80" y1="379.22" x2="64.00" y2="379.22" stroke="#8c8c8c" stroke-width="1.1" />
<line x1="56.60" y1="362.30" x2="64.00" y2="362.30" stroke="#8c8c8c" stroke-width="1.1" />
<text x="55.60" y="366.93" font-size="9.3" text-anchor="end" fill="#222" font-weight="normal" >2,500</text>
<line x1="644.50" y1="531.50" x2="651.90" y2="531.50" stroke="#f03a3a" stroke-width="1.1" />
<text x="654.50" y="533.34" font-size="9.6" text-anchor="start" fill="#f03a3a" font-weight="normal" >10</text>
<line x1="644.50" y1="514.56" x2="648.70" y2="514.56" stroke="#f03a3a" stroke-width="1.1" />
<line x1="644.50" y1="497.62" x2="651.90" y2="497.62" stroke="#f03a3a" stroke-width="1.1" />
<text x="654.50" y="500.28" font-size="9.6" text-anchor="start" fill="#f03a3a" font-weight="normal" >12</text>
<line x1="644.50" y1="480.68" x2="648.70" y2="480.68" stroke="#f03a3a" stroke-width="1.1" />
<line x1="644.50" y1="463.74" x2="651.90" y2="463.74" stroke="#f03a3a" stroke-width="1.1" />
<text x="654.50" y="467.22" font-size="9.6" text-anchor="start" fill="#f03a3a" font-weight="normal" >14</text>
<line x1="644.50" y1="446.80" x2="648.70" y2="446.80" stroke="#f03a3a" stroke-width="1.1" />
<line x1="644.50" y1="429.86" x2="651.90" y2="429.86" stroke="#f03a3a" stroke-width="1.1" />
<text x="654.50" y="434.16" font-size="9.6" text-anchor="start" fill="#f03a3a" font-weight="normal" >16</text>
<line x1="644.50" y1="412.92" x2="648.70" y2="412.92" stroke="#f03a3a" stroke-width="1.1" />
<line x1="644.50" y1="395.98" x2="651.90" y2="395.98" stroke="#f03a3a" stroke-width="1.1" />
<text x="654.50" y="401.10" font-size="9.6" text-anchor="start" fill="#f03a3a" font-weight="normal" >18</text>
<line x1="644.50" y1="379.04" x2="648.70" y2="379.04" stroke="#f03a3a" stroke-width="1.1" />
<line x1="644.50" y1="362.10" x2="651.90" y2="362.10" stroke="#f03a3a" stroke-width="1.1" />
<text x="654.50" y="368.04" font-size="9.6" text-anchor="start" fill="#f03a3a" font-weight="normal" >20</text>
<line x1="86.40" y1="531.50" x2="86.40" y2="539.00" stroke="#222" stroke-width="1.2" />
<text x="86.40" y="548.14" font-size="9.9" text-anchor="middle" fill="#222" font-weight="normal" >0</text>
<line x1="131.05" y1="531.50" x2="131.05" y2="535.50" stroke="#222" stroke-width="1.2" />
<line x1="175.70" y1="531.50" x2="175.70" y2="539.00" stroke="#222" stroke-width="1.2" />
<text x="175.70" y="548.14" font-size="9.9" text-anchor="middle" fill="#222" font-weight="normal" >2</text>
<line x1="220.35" y1="531.50" x2="220.35" y2="535.50" stroke="#222" stroke-width="1.2" />
<line x1="265.00" y1="531.50" x2="265.00" y2="539.00" stroke="#222" stroke-width="1.2" />
<text x="265.00" y="548.14" font-size="9.9" text-anchor="middle" fill="#222" font-weight="normal" >4</text>
<line x1="309.65" y1="531.50" x2="309.65" y2="535.50" stroke="#222" stroke-width="1.2" />
<line x1="354.30" y1="531.50" x2="354.30" y2="539.00" stroke="#222" stroke-width="1.2" />
<text x="354.30" y="548.14" font-size="9.9" text-anchor="middle" fill="#222" font-weight="normal" >6</text>
<line x1="398.95" y1="531.50" x2="398.95" y2="535.50" stroke="#222" stroke-width="1.2" />
<line x1="443.60" y1="531.50" x2="443.60" y2="539.00" stroke="#222" stroke-width="1.2" />
<text x="443.60" y="548.14" font-size="9.9" text-anchor="middle" fill="#222" font-weight="normal" >8</text>
<line x1="488.25" y1="531.50" x2="488.25" y2="535.50" stroke="#222" stroke-width="1.2" />
<line x1="532.90" y1="531.50" x2="532.90" y2="539.00" stroke="#222" stroke-width="1.2" />
<text x="532.90" y="548.14" font-size="9.9" text-anchor="middle" fill="#222" font-weight="normal" >10</text>
<line x1="577.55" y1="531.50" x2="577.55" y2="535.50" stroke="#222" stroke-width="1.2" />
<line x1="622.20" y1="531.50" x2="622.20" y2="539.00" stroke="#222" stroke-width="1.2" />
<text x="622.20" y="548.14" font-size="9.9" text-anchor="middle" fill="#222" font-weight="normal" >12</text>
<text x="355.30" y="561.97" font-size="12.2" text-anchor="middle" fill="#222" font-weight="normal" >Time (h)</text>
<text x="0" y="4.12" font-size="11.5" text-anchor="middle" fill="#222" font-weight="normal" transform="translate(20.60,445.30) rotate(-90)" >Channel number</text>
<text x="0" y="3.90" font-size="10.9" text-anchor="middle" fill="#f03a3a" font-weight="normal" transform="translate(678.40,452.20) rotate(90)" >Energy resolution (%)</text>
<polyline points="89.90,387.10 93.70,382.10 98.60,384.40 105.00,381.80 111.10,385.80 117.20,388.80 123.50,387.30 131.00,389.40" fill="none" stroke="#4a4a4a" stroke-width="0.9"/>
<polyline points="131.00,389.40 175.70,387.10 265.00,389.90 354.30,383.90 443.60,386.70 532.90,389.90 622.20,384.70" fill="none" stroke="#4a4a4a" stroke-width="1.5"/>
<polyline points="89.90,499.10 93.70,490.70 98.60,495.80 105.00,494.00 111.10,495.80 117.20,490.70 123.50,487.20 131.00,492.30" fill="none" stroke="#f03a3a" stroke-width="0.9"/>
<polyline points="131.00,492.30 175.70,501.00 265.00,495.80 354.30,503.70 443.60,503.60 532.90,507.60 622.20,507.60" fill="none" stroke="#f03a3a" stroke-width="1.5"/>
<circle cx="89.90" cy="387.10" r="2.90" fill="url(#gk)" stroke="none" stroke-width="1" />
<circle cx="93.70" cy="382.10" r="2.90" fill="url(#gk)" stroke="none" stroke-width="1" />
<circle cx="98.60" cy="384.40" r="2.90" fill="url(#gk)" stroke="none" stroke-width="1" />
<circle cx="105.00" cy="381.80" r="2.90" fill="url(#gk)" stroke="none" stroke-width="1" />
<circle cx="111.10" cy="385.80" r="2.90" fill="url(#gk)" stroke="none" stroke-width="1" />
<circle cx="117.20" cy="388.80" r="2.90" fill="url(#gk)" stroke="none" stroke-width="1" />
<circle cx="123.50" cy="387.30" r="2.90" fill="url(#gk)" stroke="none" stroke-width="1" />
<circle cx="131.00" cy="389.40" r="2.90" fill="url(#gk)" stroke="none" stroke-width="1" />
<circle cx="175.70" cy="387.10" r="2.90" fill="url(#gk)" stroke="none" stroke-width="1" />
<circle cx="265.00" cy="389.90" r="2.90" fill="url(#gk)" stroke="none" stroke-width="1" />
<circle cx="354.30" cy="383.90" r="2.90" fill="url(#gk)" stroke="none" stroke-width="1" />
<circle cx="443.60" cy="386.70" r="2.90" fill="url(#gk)" stroke="none" stroke-width="1" />
<circle cx="532.90" cy="389.90" r="2.90" fill="url(#gk)" stroke="none" stroke-width="1" />
<circle cx="622.20" cy="384.70" r="2.90" fill="url(#gk)" stroke="none" stroke-width="1" />
<circle cx="89.90" cy="499.10" r="2.90" fill="url(#gr)" stroke="none" stroke-width="1" />
<circle cx="93.70" cy="490.70" r="2.90" fill="url(#gr)" stroke="none" stroke-width="1" />
<circle cx="98.60" cy="495.80" r="2.90" fill="url(#gr)" stroke="none" stroke-width="1" />
<circle cx="105.00" cy="494.00" r="2.90" fill="url(#gr)" stroke="none" stroke-width="1" />
<circle cx="111.10" cy="495.80" r="2.90" fill="url(#gr)" stroke="none" stroke-width="1" />
<circle cx="117.20" cy="490.70" r="2.90" fill="url(#gr)" stroke="none" stroke-width="1" />
<circle cx="123.50" cy="487.20" r="2.90" fill="url(#gr)" stroke="none" stroke-width="1" />
<circle cx="131.00" cy="492.30" r="2.90" fill="url(#gr)" stroke="none" stroke-width="1" />
<circle cx="175.70" cy="501.00" r="2.90" fill="url(#gr)" stroke="none" stroke-width="1" />
<circle cx="265.00" cy="495.80" r="2.90" fill="url(#gr)" stroke="none" stroke-width="1" />
<circle cx="354.30" cy="503.70" r="2.90" fill="url(#gr)" stroke="none" stroke-width="1" />
<circle cx="443.60" cy="503.60" r="2.90" fill="url(#gr)" stroke="none" stroke-width="1" />
<circle cx="532.90" cy="507.60" r="2.90" fill="url(#gr)" stroke="none" stroke-width="1" />
<circle cx="622.20" cy="507.60" r="2.90" fill="url(#gr)" stroke="none" stroke-width="1" />
</svg></body></html>
